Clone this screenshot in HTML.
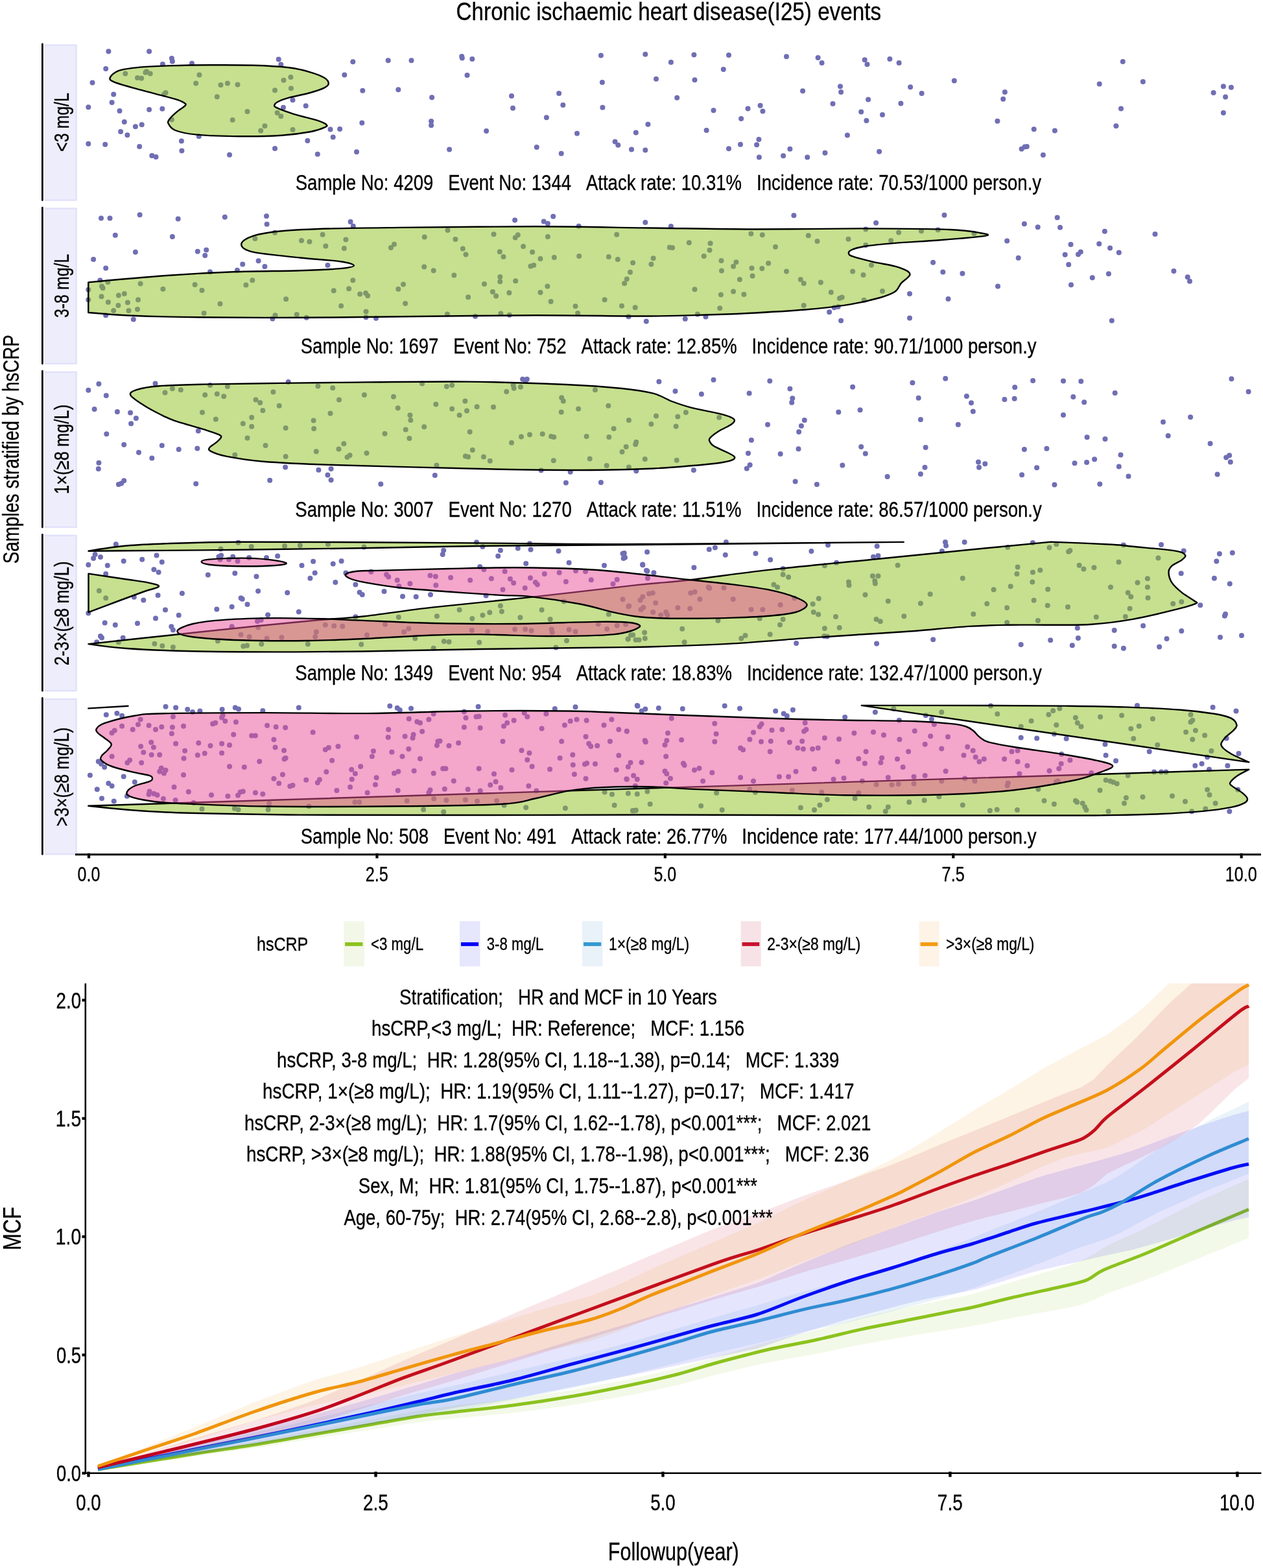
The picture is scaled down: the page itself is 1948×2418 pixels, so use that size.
<!DOCTYPE html>
<html><head><meta charset="utf-8"><title>Chronic ischaemic heart disease(I25) events</title>
<style>html,body{margin:0;padding:0;background:#fff;} svg{display:block;} text{font-family:'Liberation Sans', Arial, sans-serif;fill:#000;stroke:#000;stroke-width:0.35px;}</style>
</head><body>
<svg width="1948" height="2418" viewBox="0 0 1948 2418">
<rect width="1948" height="2418" fill="#fff"/>
<text x="703.61" y="31.30" font-size="39" textLength="655.39" lengthAdjust="spacingAndGlyphs">Chronic ischaemic heart disease(I25) events</text>
<rect x="68.8" y="68.40" width="49.8" height="241.30" fill="#EEEDFC"/>
<path d="M68.8,69.50 H117.5 V308.60 H68.8" fill="none" stroke="#E0E0FB" stroke-width="2.2"/>
<line x1="65.4" y1="67.90" x2="65.4" y2="308.70" stroke="#000" stroke-width="2.8" stroke-linecap="round"/>
<rect x="68.8" y="320.55" width="49.8" height="241.30" fill="#EEEDFC"/>
<path d="M68.8,321.65 H117.5 V560.75 H68.8" fill="none" stroke="#E0E0FB" stroke-width="2.2"/>
<line x1="65.4" y1="320.05" x2="65.4" y2="560.85" stroke="#000" stroke-width="2.8" stroke-linecap="round"/>
<rect x="68.8" y="572.70" width="49.8" height="241.30" fill="#EEEDFC"/>
<path d="M68.8,573.80 H117.5 V812.90 H68.8" fill="none" stroke="#E0E0FB" stroke-width="2.2"/>
<line x1="65.4" y1="572.20" x2="65.4" y2="813.00" stroke="#000" stroke-width="2.8" stroke-linecap="round"/>
<rect x="68.8" y="824.85" width="49.8" height="241.30" fill="#EEEDFC"/>
<path d="M68.8,825.95 H117.5 V1065.05 H68.8" fill="none" stroke="#E0E0FB" stroke-width="2.2"/>
<line x1="65.4" y1="824.35" x2="65.4" y2="1065.15" stroke="#000" stroke-width="2.8" stroke-linecap="round"/>
<rect x="68.8" y="1077.00" width="49.8" height="241.30" fill="#EEEDFC"/>
<path d="M68.8,1078.10 H117.5 V1317.20 H68.8" fill="none" stroke="#E0E0FB" stroke-width="2.2"/>
<line x1="65.4" y1="1076.50" x2="65.4" y2="1317.30" stroke="#000" stroke-width="2.8" stroke-linecap="round"/>
<g fill="#706EB4">
<circle cx="167.4" cy="79.2" r="4"/>
<circle cx="230.1" cy="79.2" r="4"/>
<circle cx="264.9" cy="90.1" r="4"/>
<circle cx="265.9" cy="94.7" r="4"/>
<circle cx="250.9" cy="98.9" r="4"/>
<circle cx="296.0" cy="97.8" r="4"/>
<circle cx="163.2" cy="106.1" r="4"/>
<circle cx="429.7" cy="91.6" r="4"/>
<circle cx="433.3" cy="99.4" r="4"/>
<circle cx="544.3" cy="95.3" r="4"/>
<circle cx="598.7" cy="93.2" r="4"/>
<circle cx="634.5" cy="93.2" r="4"/>
<circle cx="712.2" cy="87.0" r="4"/>
<circle cx="712.8" cy="89.5" r="4"/>
<circle cx="728.3" cy="91.1" r="4"/>
<circle cx="926.9" cy="85.4" r="4"/>
<circle cx="995.3" cy="83.8" r="4"/>
<circle cx="142.5" cy="127.4" r="4"/>
<circle cx="175.2" cy="145.5" r="4"/>
<circle cx="172.6" cy="158.0" r="4"/>
<circle cx="136.3" cy="165.2" r="4"/>
<circle cx="184.5" cy="170.9" r="4"/>
<circle cx="230.1" cy="168.9" r="4"/>
<circle cx="250.3" cy="167.8" r="4"/>
<circle cx="191.8" cy="188.0" r="4"/>
<circle cx="208.9" cy="195.3" r="4"/>
<circle cx="218.7" cy="192.2" r="4"/>
<circle cx="186.1" cy="203.1" r="4"/>
<circle cx="196.4" cy="208.3" r="4"/>
<circle cx="136.3" cy="221.7" r="4"/>
<circle cx="162.2" cy="222.8" r="4"/>
<circle cx="215.1" cy="225.9" r="4"/>
<circle cx="234.3" cy="239.9" r="4"/>
<circle cx="240.5" cy="242.0" r="4"/>
<circle cx="279.9" cy="217.6" r="4"/>
<circle cx="280.4" cy="232.6" r="4"/>
<circle cx="306.8" cy="210.3" r="4"/>
<circle cx="354.0" cy="238.8" r="4"/>
<circle cx="424.0" cy="229.0" r="4"/>
<circle cx="489.8" cy="237.8" r="4"/>
<circle cx="474.3" cy="217.1" r="4"/>
<circle cx="513.7" cy="211.4" r="4"/>
<circle cx="509.5" cy="199.5" r="4"/>
<circle cx="524.1" cy="198.9" r="4"/>
<circle cx="451.5" cy="154.3" r="4"/>
<circle cx="437.0" cy="165.8" r="4"/>
<circle cx="471.7" cy="163.2" r="4"/>
<circle cx="531.3" cy="115.5" r="4"/>
<circle cx="559.3" cy="139.8" r="4"/>
<circle cx="558.3" cy="189.6" r="4"/>
<circle cx="550.0" cy="234.2" r="4"/>
<circle cx="614.3" cy="138.3" r="4"/>
<circle cx="666.1" cy="150.2" r="4"/>
<circle cx="665.1" cy="187.0" r="4"/>
<circle cx="665.1" cy="193.2" r="4"/>
<circle cx="693.1" cy="230.6" r="4"/>
<circle cx="720.5" cy="116.0" r="4"/>
<circle cx="750.1" cy="202.0" r="4"/>
<circle cx="789.0" cy="148.1" r="4"/>
<circle cx="791.0" cy="166.8" r="4"/>
<circle cx="827.8" cy="226.9" r="4"/>
<circle cx="842.9" cy="181.3" r="4"/>
<circle cx="862.1" cy="144.0" r="4"/>
<circle cx="868.3" cy="162.1" r="4"/>
<circle cx="865.7" cy="236.8" r="4"/>
<circle cx="890.0" cy="205.7" r="4"/>
<circle cx="928.9" cy="126.9" r="4"/>
<circle cx="929.4" cy="165.8" r="4"/>
<circle cx="948.6" cy="218.6" r="4"/>
<circle cx="953.3" cy="223.8" r="4"/>
<circle cx="980.8" cy="204.6" r="4"/>
<circle cx="974.0" cy="230.6" r="4"/>
<circle cx="995.3" cy="231.6" r="4"/>
<circle cx="999.4" cy="191.7" r="4"/>
<circle cx="193.3" cy="113.4" r="4"/>
<circle cx="212.0" cy="120.1" r="4"/>
<circle cx="218.2" cy="120.7" r="4"/>
<circle cx="224.4" cy="111.8" r="4"/>
<circle cx="231.7" cy="113.4" r="4"/>
<circle cx="226.0" cy="110.3" r="4"/>
<circle cx="307.4" cy="115.5" r="4"/>
<circle cx="302.2" cy="128.4" r="4"/>
<circle cx="340.5" cy="131.0" r="4"/>
<circle cx="350.9" cy="128.4" r="4"/>
<circle cx="366.5" cy="130.5" r="4"/>
<circle cx="334.8" cy="149.2" r="4"/>
<circle cx="255.5" cy="142.9" r="4"/>
<circle cx="252.9" cy="145.5" r="4"/>
<circle cx="381.5" cy="172.0" r="4"/>
<circle cx="358.7" cy="184.9" r="4"/>
<circle cx="264.9" cy="184.4" r="4"/>
<circle cx="402.2" cy="201.5" r="4"/>
<circle cx="408.4" cy="194.3" r="4"/>
<circle cx="424.0" cy="139.3" r="4"/>
<circle cx="437.5" cy="123.8" r="4"/>
<circle cx="448.4" cy="119.1" r="4"/>
<circle cx="448.9" cy="136.2" r="4"/>
<circle cx="427.6" cy="174.0" r="4"/>
<circle cx="433.3" cy="179.2" r="4"/>
<circle cx="451.5" cy="200.0" r="4"/>
<circle cx="1034.9" cy="96.0" r="4"/>
<circle cx="1070.4" cy="84.6" r="4"/>
<circle cx="1124.0" cy="85.1" r="4"/>
<circle cx="1115.8" cy="107.0" r="4"/>
<circle cx="1012.0" cy="121.7" r="4"/>
<circle cx="1071.5" cy="123.3" r="4"/>
<circle cx="1044.2" cy="150.7" r="4"/>
<circle cx="1100.5" cy="170.3" r="4"/>
<circle cx="1089.6" cy="200.9" r="4"/>
<circle cx="1153.5" cy="167.6" r="4"/>
<circle cx="1143.1" cy="182.9" r="4"/>
<circle cx="1172.6" cy="162.7" r="4"/>
<circle cx="1176.4" cy="171.4" r="4"/>
<circle cx="1124.0" cy="229.3" r="4"/>
<circle cx="1142.0" cy="222.7" r="4"/>
<circle cx="1167.1" cy="223.3" r="4"/>
<circle cx="1170.4" cy="215.1" r="4"/>
<circle cx="1170.9" cy="242.4" r="4"/>
<circle cx="1213.0" cy="87.3" r="4"/>
<circle cx="1261.6" cy="88.9" r="4"/>
<circle cx="1267.6" cy="97.1" r="4"/>
<circle cx="1333.7" cy="92.2" r="4"/>
<circle cx="1337.5" cy="99.3" r="4"/>
<circle cx="1372.4" cy="91.1" r="4"/>
<circle cx="1386.6" cy="97.1" r="4"/>
<circle cx="1238.1" cy="140.3" r="4"/>
<circle cx="1296.0" cy="133.2" r="4"/>
<circle cx="1297.1" cy="141.9" r="4"/>
<circle cx="1284.5" cy="159.9" r="4"/>
<circle cx="1339.1" cy="153.4" r="4"/>
<circle cx="1328.2" cy="172.5" r="4"/>
<circle cx="1336.4" cy="186.1" r="4"/>
<circle cx="1361.0" cy="176.9" r="4"/>
<circle cx="1404.1" cy="134.3" r="4"/>
<circle cx="1421.6" cy="144.1" r="4"/>
<circle cx="1389.4" cy="159.4" r="4"/>
<circle cx="1306.9" cy="208.5" r="4"/>
<circle cx="1356.1" cy="233.7" r="4"/>
<circle cx="1208.1" cy="240.2" r="4"/>
<circle cx="1218.4" cy="229.8" r="4"/>
<circle cx="1245.2" cy="242.4" r="4"/>
<circle cx="1272.5" cy="235.8" r="4"/>
<circle cx="1471.8" cy="124.4" r="4"/>
<circle cx="1549.9" cy="141.9" r="4"/>
<circle cx="1547.2" cy="152.8" r="4"/>
<circle cx="1538.4" cy="186.7" r="4"/>
<circle cx="1594.7" cy="199.3" r="4"/>
<circle cx="1626.9" cy="201.4" r="4"/>
<circle cx="1575.6" cy="229.8" r="4"/>
<circle cx="1580.5" cy="226.6" r="4"/>
<circle cx="1583.8" cy="226.0" r="4"/>
<circle cx="1608.9" cy="239.1" r="4"/>
<circle cx="1695.7" cy="129.4" r="4"/>
<circle cx="1731.8" cy="94.9" r="4"/>
<circle cx="1762.9" cy="126.1" r="4"/>
<circle cx="1729.0" cy="167.6" r="4"/>
<circle cx="1721.4" cy="194.3" r="4"/>
<circle cx="1871.6" cy="143.0" r="4"/>
<circle cx="1886.9" cy="133.2" r="4"/>
<circle cx="1898.9" cy="134.8" r="4"/>
<circle cx="1890.1" cy="149.6" r="4"/>
<circle cx="1886.9" cy="174.1" r="4"/>
<circle cx="156.0" cy="336.4" r="4"/>
<circle cx="169.5" cy="336.4" r="4"/>
<circle cx="215.6" cy="331.2" r="4"/>
<circle cx="274.7" cy="337.4" r="4"/>
<circle cx="346.8" cy="334.8" r="4"/>
<circle cx="411.0" cy="333.3" r="4"/>
<circle cx="411.6" cy="345.7" r="4"/>
<circle cx="424.0" cy="358.7" r="4"/>
<circle cx="540.6" cy="342.1" r="4"/>
<circle cx="544.8" cy="348.8" r="4"/>
<circle cx="794.1" cy="339.5" r="4"/>
<circle cx="838.7" cy="341.5" r="4"/>
<circle cx="844.9" cy="344.7" r="4"/>
<circle cx="853.2" cy="333.8" r="4"/>
<circle cx="892.6" cy="348.8" r="4"/>
<circle cx="995.3" cy="343.1" r="4"/>
<circle cx="177.8" cy="362.8" r="4"/>
<circle cx="265.9" cy="364.9" r="4"/>
<circle cx="208.9" cy="388.7" r="4"/>
<circle cx="144.1" cy="400.1" r="4"/>
<circle cx="163.2" cy="413.6" r="4"/>
<circle cx="304.8" cy="387.7" r="4"/>
<circle cx="318.2" cy="385.6" r="4"/>
<circle cx="316.2" cy="393.9" r="4"/>
<circle cx="374.2" cy="407.4" r="4"/>
<circle cx="398.6" cy="402.2" r="4"/>
<circle cx="408.4" cy="411.0" r="4"/>
<circle cx="365.9" cy="416.7" r="4"/>
<circle cx="324.0" cy="419.3" r="4"/>
<circle cx="505.4" cy="408.9" r="4"/>
<circle cx="154.4" cy="432.3" r="4"/>
<circle cx="136.3" cy="446.8" r="4"/>
<circle cx="136.3" cy="462.3" r="4"/>
<circle cx="163.2" cy="486.2" r="4"/>
<circle cx="205.8" cy="492.4" r="4"/>
<circle cx="420.4" cy="491.4" r="4"/>
<circle cx="472.7" cy="489.8" r="4"/>
<circle cx="564.5" cy="489.3" r="4"/>
<circle cx="580.0" cy="490.8" r="4"/>
<circle cx="733.0" cy="487.7" r="4"/>
<circle cx="996.8" cy="495.5" r="4"/>
<circle cx="157.0" cy="441.6" r="4"/>
<circle cx="166.4" cy="434.9" r="4"/>
<circle cx="158.6" cy="444.2" r="4"/>
<circle cx="216.6" cy="437.5" r="4"/>
<circle cx="156.5" cy="457.2" r="4"/>
<circle cx="182.9" cy="455.6" r="4"/>
<circle cx="191.8" cy="453.0" r="4"/>
<circle cx="166.9" cy="466.0" r="4"/>
<circle cx="182.4" cy="471.1" r="4"/>
<circle cx="196.9" cy="466.5" r="4"/>
<circle cx="175.2" cy="478.9" r="4"/>
<circle cx="198.5" cy="478.9" r="4"/>
<circle cx="212.0" cy="476.9" r="4"/>
<circle cx="213.0" cy="462.3" r="4"/>
<circle cx="251.4" cy="445.7" r="4"/>
<circle cx="300.6" cy="439.0" r="4"/>
<circle cx="311.5" cy="447.8" r="4"/>
<circle cx="314.6" cy="483.1" r="4"/>
<circle cx="339.5" cy="468.6" r="4"/>
<circle cx="379.4" cy="439.5" r="4"/>
<circle cx="389.3" cy="432.3" r="4"/>
<circle cx="393.4" cy="368.0" r="4"/>
<circle cx="441.1" cy="461.3" r="4"/>
<circle cx="457.7" cy="485.1" r="4"/>
<circle cx="424.5" cy="486.2" r="4"/>
<circle cx="465.0" cy="371.1" r="4"/>
<circle cx="477.4" cy="372.7" r="4"/>
<circle cx="497.6" cy="361.8" r="4"/>
<circle cx="502.3" cy="379.4" r="4"/>
<circle cx="533.4" cy="369.5" r="4"/>
<circle cx="530.8" cy="383.0" r="4"/>
<circle cx="544.3" cy="432.3" r="4"/>
<circle cx="538.1" cy="445.2" r="4"/>
<circle cx="514.7" cy="448.3" r="4"/>
<circle cx="555.2" cy="453.5" r="4"/>
<circle cx="564.0" cy="452.0" r="4"/>
<circle cx="567.1" cy="456.1" r="4"/>
<circle cx="526.1" cy="471.7" r="4"/>
<circle cx="564.5" cy="480.5" r="4"/>
<circle cx="602.9" cy="382.0" r="4"/>
<circle cx="608.0" cy="376.8" r="4"/>
<circle cx="614.3" cy="445.7" r="4"/>
<circle cx="622.0" cy="438.5" r="4"/>
<circle cx="625.1" cy="468.0" r="4"/>
<circle cx="654.7" cy="365.4" r="4"/>
<circle cx="654.2" cy="411.5" r="4"/>
<circle cx="668.7" cy="417.2" r="4"/>
<circle cx="690.5" cy="355.0" r="4"/>
<circle cx="702.4" cy="369.0" r="4"/>
<circle cx="700.3" cy="424.5" r="4"/>
<circle cx="713.8" cy="383.5" r="4"/>
<circle cx="718.5" cy="392.4" r="4"/>
<circle cx="689.9" cy="484.6" r="4"/>
<circle cx="747.0" cy="438.0" r="4"/>
<circle cx="761.5" cy="361.2" r="4"/>
<circle cx="759.9" cy="449.9" r="4"/>
<circle cx="765.1" cy="456.6" r="4"/>
<circle cx="771.3" cy="427.1" r="4"/>
<circle cx="771.3" cy="434.3" r="4"/>
<circle cx="770.8" cy="388.2" r="4"/>
<circle cx="776.5" cy="396.0" r="4"/>
<circle cx="722.1" cy="458.2" r="4"/>
<circle cx="785.3" cy="451.5" r="4"/>
<circle cx="772.4" cy="483.6" r="4"/>
<circle cx="785.8" cy="485.7" r="4"/>
<circle cx="794.7" cy="366.4" r="4"/>
<circle cx="798.8" cy="362.3" r="4"/>
<circle cx="795.2" cy="433.3" r="4"/>
<circle cx="807.1" cy="379.9" r="4"/>
<circle cx="821.1" cy="388.7" r="4"/>
<circle cx="818.5" cy="410.5" r="4"/>
<circle cx="823.2" cy="408.9" r="4"/>
<circle cx="833.5" cy="399.1" r="4"/>
<circle cx="844.9" cy="364.9" r="4"/>
<circle cx="854.8" cy="397.0" r="4"/>
<circle cx="844.4" cy="441.6" r="4"/>
<circle cx="833.5" cy="450.9" r="4"/>
<circle cx="849.6" cy="464.9" r="4"/>
<circle cx="893.2" cy="394.9" r="4"/>
<circle cx="887.5" cy="472.2" r="4"/>
<circle cx="891.1" cy="483.1" r="4"/>
<circle cx="932.6" cy="462.3" r="4"/>
<circle cx="951.2" cy="361.8" r="4"/>
<circle cx="938.8" cy="396.0" r="4"/>
<circle cx="952.8" cy="400.1" r="4"/>
<circle cx="976.1" cy="405.3" r="4"/>
<circle cx="972.0" cy="419.8" r="4"/>
<circle cx="966.8" cy="430.2" r="4"/>
<circle cx="963.1" cy="436.9" r="4"/>
<circle cx="959.0" cy="471.7" r="4"/>
<circle cx="979.7" cy="474.3" r="4"/>
<circle cx="969.4" cy="488.3" r="4"/>
<circle cx="1034.9" cy="349.1" r="4"/>
<circle cx="1224.4" cy="332.2" r="4"/>
<circle cx="1351.1" cy="343.7" r="4"/>
<circle cx="1456.5" cy="331.7" r="4"/>
<circle cx="1579.9" cy="345.3" r="4"/>
<circle cx="1600.7" cy="350.2" r="4"/>
<circle cx="1630.7" cy="335.5" r="4"/>
<circle cx="1635.1" cy="350.8" r="4"/>
<circle cx="1703.9" cy="356.8" r="4"/>
<circle cx="1781.5" cy="361.1" r="4"/>
<circle cx="1553.2" cy="371.5" r="4"/>
<circle cx="1570.7" cy="397.7" r="4"/>
<circle cx="1651.5" cy="377.0" r="4"/>
<circle cx="1642.7" cy="392.8" r="4"/>
<circle cx="1663.0" cy="392.3" r="4"/>
<circle cx="1666.8" cy="388.5" r="4"/>
<circle cx="1648.2" cy="408.1" r="4"/>
<circle cx="1695.2" cy="375.9" r="4"/>
<circle cx="1712.1" cy="382.4" r="4"/>
<circle cx="1725.8" cy="389.5" r="4"/>
<circle cx="1684.8" cy="428.3" r="4"/>
<circle cx="1709.9" cy="422.3" r="4"/>
<circle cx="1652.0" cy="439.2" r="4"/>
<circle cx="1539.0" cy="441.4" r="4"/>
<circle cx="1810.4" cy="417.9" r="4"/>
<circle cx="1831.7" cy="427.2" r="4"/>
<circle cx="1835.0" cy="433.8" r="4"/>
<circle cx="1439.1" cy="404.8" r="4"/>
<circle cx="1454.3" cy="419.6" r="4"/>
<circle cx="1484.4" cy="421.8" r="4"/>
<circle cx="1403.0" cy="452.9" r="4"/>
<circle cx="1462.5" cy="461.1" r="4"/>
<circle cx="1403.0" cy="490.6" r="4"/>
<circle cx="1297.1" cy="494.4" r="4"/>
<circle cx="1279.1" cy="481.3" r="4"/>
<circle cx="1714.8" cy="494.4" r="4"/>
<circle cx="1056.8" cy="491.7" r="4"/>
<circle cx="1088.5" cy="488.4" r="4"/>
<circle cx="1007.6" cy="398.3" r="4"/>
<circle cx="1004.4" cy="407.6" r="4"/>
<circle cx="1032.8" cy="381.4" r="4"/>
<circle cx="1037.1" cy="381.9" r="4"/>
<circle cx="1062.8" cy="374.3" r="4"/>
<circle cx="1095.6" cy="375.3" r="4"/>
<circle cx="1094.5" cy="385.7" r="4"/>
<circle cx="1085.7" cy="395.0" r="4"/>
<circle cx="1158.4" cy="360.6" r="4"/>
<circle cx="1175.8" cy="362.2" r="4"/>
<circle cx="1246.8" cy="363.3" r="4"/>
<circle cx="1260.5" cy="372.1" r="4"/>
<circle cx="1196.0" cy="380.8" r="4"/>
<circle cx="1308.5" cy="368.8" r="4"/>
<circle cx="1335.3" cy="353.5" r="4"/>
<circle cx="1335.3" cy="378.1" r="4"/>
<circle cx="1374.1" cy="371.0" r="4"/>
<circle cx="1386.1" cy="358.4" r="4"/>
<circle cx="1421.0" cy="356.2" r="4"/>
<circle cx="1446.7" cy="354.6" r="4"/>
<circle cx="1502.4" cy="360.1" r="4"/>
<circle cx="1112.5" cy="402.1" r="4"/>
<circle cx="1135.4" cy="404.3" r="4"/>
<circle cx="1131.1" cy="410.8" r="4"/>
<circle cx="1113.0" cy="417.4" r="4"/>
<circle cx="1159.5" cy="413.6" r="4"/>
<circle cx="1175.3" cy="414.1" r="4"/>
<circle cx="1185.1" cy="405.9" r="4"/>
<circle cx="1160.6" cy="425.6" r="4"/>
<circle cx="1213.0" cy="418.5" r="4"/>
<circle cx="1140.9" cy="431.0" r="4"/>
<circle cx="1234.8" cy="431.0" r="4"/>
<circle cx="1239.7" cy="437.1" r="4"/>
<circle cx="1265.9" cy="435.4" r="4"/>
<circle cx="1315.1" cy="418.5" r="4"/>
<circle cx="1331.5" cy="423.9" r="4"/>
<circle cx="1344.0" cy="408.7" r="4"/>
<circle cx="1071.5" cy="446.3" r="4"/>
<circle cx="1111.9" cy="454.5" r="4"/>
<circle cx="1131.1" cy="449.6" r="4"/>
<circle cx="1147.4" cy="454.0" r="4"/>
<circle cx="1110.3" cy="475.3" r="4"/>
<circle cx="1075.9" cy="484.6" r="4"/>
<circle cx="1239.7" cy="470.9" r="4"/>
<circle cx="1281.8" cy="450.7" r="4"/>
<circle cx="1294.9" cy="460.0" r="4"/>
<circle cx="1298.7" cy="458.4" r="4"/>
<circle cx="1286.7" cy="474.2" r="4"/>
<circle cx="1292.7" cy="473.1" r="4"/>
<circle cx="1332.6" cy="462.7" r="4"/>
<circle cx="1361.0" cy="449.1" r="4"/>
<circle cx="136.3" cy="601.8" r="4"/>
<circle cx="152.4" cy="592.0" r="4"/>
<circle cx="163.8" cy="610.1" r="4"/>
<circle cx="145.6" cy="630.9" r="4"/>
<circle cx="180.9" cy="635.0" r="4"/>
<circle cx="201.1" cy="636.6" r="4"/>
<circle cx="209.9" cy="644.9" r="4"/>
<circle cx="202.1" cy="653.2" r="4"/>
<circle cx="164.3" cy="669.2" r="4"/>
<circle cx="191.2" cy="685.8" r="4"/>
<circle cx="214.0" cy="697.7" r="4"/>
<circle cx="234.3" cy="706.6" r="4"/>
<circle cx="249.8" cy="686.9" r="4"/>
<circle cx="275.7" cy="693.1" r="4"/>
<circle cx="304.3" cy="691.5" r="4"/>
<circle cx="305.8" cy="664.6" r="4"/>
<circle cx="152.4" cy="713.8" r="4"/>
<circle cx="151.8" cy="723.1" r="4"/>
<circle cx="182.9" cy="747.0" r="4"/>
<circle cx="187.1" cy="745.4" r="4"/>
<circle cx="191.2" cy="741.3" r="4"/>
<circle cx="302.2" cy="746.0" r="4"/>
<circle cx="416.2" cy="740.8" r="4"/>
<circle cx="440.1" cy="720.6" r="4"/>
<circle cx="491.4" cy="724.7" r="4"/>
<circle cx="505.4" cy="732.5" r="4"/>
<circle cx="510.6" cy="723.1" r="4"/>
<circle cx="510.6" cy="740.3" r="4"/>
<circle cx="587.3" cy="746.5" r="4"/>
<circle cx="670.8" cy="733.0" r="4"/>
<circle cx="834.6" cy="725.2" r="4"/>
<circle cx="872.9" cy="744.4" r="4"/>
<circle cx="879.7" cy="727.8" r="4"/>
<circle cx="926.9" cy="743.9" r="4"/>
<circle cx="981.3" cy="726.3" r="4"/>
<circle cx="239.5" cy="591.5" r="4"/>
<circle cx="444.7" cy="588.9" r="4"/>
<circle cx="806.1" cy="584.7" r="4"/>
<circle cx="812.8" cy="584.7" r="4"/>
<circle cx="810.7" cy="587.3" r="4"/>
<circle cx="254.5" cy="605.5" r="4"/>
<circle cx="265.9" cy="599.3" r="4"/>
<circle cx="278.8" cy="601.3" r="4"/>
<circle cx="316.2" cy="609.1" r="4"/>
<circle cx="324.0" cy="594.1" r="4"/>
<circle cx="334.8" cy="607.5" r="4"/>
<circle cx="345.2" cy="611.2" r="4"/>
<circle cx="350.9" cy="596.1" r="4"/>
<circle cx="312.0" cy="636.1" r="4"/>
<circle cx="332.8" cy="646.4" r="4"/>
<circle cx="374.8" cy="653.2" r="4"/>
<circle cx="388.2" cy="643.8" r="4"/>
<circle cx="388.2" cy="657.8" r="4"/>
<circle cx="381.5" cy="675.5" r="4"/>
<circle cx="362.3" cy="701.4" r="4"/>
<circle cx="394.5" cy="616.4" r="4"/>
<circle cx="401.2" cy="621.0" r="4"/>
<circle cx="405.3" cy="632.9" r="4"/>
<circle cx="421.4" cy="604.4" r="4"/>
<circle cx="430.7" cy="625.7" r="4"/>
<circle cx="409.5" cy="686.9" r="4"/>
<circle cx="440.6" cy="659.9" r="4"/>
<circle cx="440.6" cy="704.0" r="4"/>
<circle cx="483.6" cy="648.5" r="4"/>
<circle cx="484.1" cy="660.9" r="4"/>
<circle cx="490.4" cy="595.6" r="4"/>
<circle cx="513.2" cy="598.2" r="4"/>
<circle cx="523.0" cy="616.4" r="4"/>
<circle cx="509.5" cy="637.6" r="4"/>
<circle cx="487.8" cy="696.2" r="4"/>
<circle cx="522.5" cy="692.6" r="4"/>
<circle cx="530.3" cy="684.3" r="4"/>
<circle cx="539.6" cy="701.9" r="4"/>
<circle cx="535.5" cy="705.0" r="4"/>
<circle cx="565.5" cy="698.8" r="4"/>
<circle cx="561.9" cy="609.1" r="4"/>
<circle cx="593.5" cy="668.7" r="4"/>
<circle cx="607.0" cy="611.7" r="4"/>
<circle cx="613.7" cy="629.3" r="4"/>
<circle cx="632.4" cy="640.2" r="4"/>
<circle cx="633.4" cy="648.0" r="4"/>
<circle cx="625.7" cy="662.5" r="4"/>
<circle cx="631.4" cy="676.0" r="4"/>
<circle cx="654.2" cy="658.3" r="4"/>
<circle cx="651.1" cy="591.5" r="4"/>
<circle cx="672.3" cy="623.6" r="4"/>
<circle cx="688.9" cy="596.1" r="4"/>
<circle cx="697.2" cy="594.1" r="4"/>
<circle cx="697.2" cy="630.4" r="4"/>
<circle cx="708.6" cy="640.2" r="4"/>
<circle cx="717.4" cy="618.4" r="4"/>
<circle cx="720.0" cy="633.5" r="4"/>
<circle cx="735.6" cy="627.2" r="4"/>
<circle cx="724.7" cy="666.1" r="4"/>
<circle cx="728.8" cy="694.1" r="4"/>
<circle cx="717.9" cy="703.5" r="4"/>
<circle cx="722.1" cy="704.5" r="4"/>
<circle cx="745.9" cy="704.5" r="4"/>
<circle cx="755.8" cy="710.7" r="4"/>
<circle cx="761.0" cy="627.8" r="4"/>
<circle cx="781.2" cy="603.9" r="4"/>
<circle cx="791.6" cy="594.1" r="4"/>
<circle cx="792.6" cy="598.7" r="4"/>
<circle cx="803.0" cy="596.7" r="4"/>
<circle cx="789.0" cy="682.7" r="4"/>
<circle cx="804.0" cy="673.4" r="4"/>
<circle cx="817.0" cy="670.3" r="4"/>
<circle cx="836.7" cy="669.2" r="4"/>
<circle cx="850.1" cy="672.9" r="4"/>
<circle cx="854.3" cy="673.9" r="4"/>
<circle cx="853.8" cy="710.2" r="4"/>
<circle cx="866.2" cy="613.2" r="4"/>
<circle cx="868.8" cy="618.4" r="4"/>
<circle cx="865.7" cy="635.5" r="4"/>
<circle cx="892.1" cy="630.4" r="4"/>
<circle cx="904.6" cy="672.9" r="4"/>
<circle cx="909.7" cy="707.6" r="4"/>
<circle cx="918.0" cy="601.3" r="4"/>
<circle cx="938.3" cy="625.7" r="4"/>
<circle cx="939.3" cy="673.9" r="4"/>
<circle cx="946.6" cy="660.9" r="4"/>
<circle cx="969.9" cy="648.0" r="4"/>
<circle cx="959.5" cy="696.7" r="4"/>
<circle cx="965.7" cy="688.9" r="4"/>
<circle cx="981.3" cy="681.7" r="4"/>
<circle cx="980.2" cy="685.3" r="4"/>
<circle cx="935.7" cy="718.0" r="4"/>
<circle cx="969.9" cy="720.6" r="4"/>
<circle cx="994.8" cy="708.1" r="4"/>
<circle cx="673.4" cy="717.4" r="4"/>
<circle cx="1016.4" cy="588.6" r="4"/>
<circle cx="1041.5" cy="603.3" r="4"/>
<circle cx="1081.9" cy="607.7" r="4"/>
<circle cx="1100.5" cy="585.8" r="4"/>
<circle cx="1155.6" cy="606.6" r="4"/>
<circle cx="1187.3" cy="587.5" r="4"/>
<circle cx="1218.4" cy="599.5" r="4"/>
<circle cx="1222.3" cy="614.2" r="4"/>
<circle cx="1221.2" cy="620.8" r="4"/>
<circle cx="1315.1" cy="596.8" r="4"/>
<circle cx="1407.4" cy="590.2" r="4"/>
<circle cx="1458.2" cy="583.7" r="4"/>
<circle cx="1416.7" cy="613.7" r="4"/>
<circle cx="1490.9" cy="611.0" r="4"/>
<circle cx="1498.0" cy="621.3" r="4"/>
<circle cx="1500.8" cy="634.4" r="4"/>
<circle cx="1565.2" cy="597.3" r="4"/>
<circle cx="1564.7" cy="614.8" r="4"/>
<circle cx="1549.4" cy="615.9" r="4"/>
<circle cx="1593.1" cy="586.9" r="4"/>
<circle cx="1640.0" cy="587.5" r="4"/>
<circle cx="1667.3" cy="588.0" r="4"/>
<circle cx="1655.3" cy="612.1" r="4"/>
<circle cx="1672.2" cy="620.2" r="4"/>
<circle cx="1719.7" cy="606.0" r="4"/>
<circle cx="1899.4" cy="584.2" r="4"/>
<circle cx="1925.6" cy="603.9" r="4"/>
<circle cx="1640.0" cy="639.9" r="4"/>
<circle cx="1794.0" cy="650.8" r="4"/>
<circle cx="1836.1" cy="643.2" r="4"/>
<circle cx="1801.7" cy="672.1" r="4"/>
<circle cx="1676.6" cy="674.3" r="4"/>
<circle cx="1704.5" cy="677.0" r="4"/>
<circle cx="1419.9" cy="647.0" r="4"/>
<circle cx="1477.8" cy="654.7" r="4"/>
<circle cx="1184.0" cy="654.7" r="4"/>
<circle cx="1240.8" cy="648.1" r="4"/>
<circle cx="1235.9" cy="656.8" r="4"/>
<circle cx="1232.1" cy="666.1" r="4"/>
<circle cx="1158.9" cy="678.7" r="4"/>
<circle cx="1154.0" cy="698.9" r="4"/>
<circle cx="1156.7" cy="716.9" r="4"/>
<circle cx="1151.8" cy="722.4" r="4"/>
<circle cx="1203.7" cy="700.0" r="4"/>
<circle cx="1231.5" cy="692.3" r="4"/>
<circle cx="1293.3" cy="635.5" r="4"/>
<circle cx="1326.6" cy="632.3" r="4"/>
<circle cx="1328.2" cy="689.1" r="4"/>
<circle cx="1334.8" cy="699.4" r="4"/>
<circle cx="1299.3" cy="717.5" r="4"/>
<circle cx="1427.6" cy="690.1" r="4"/>
<circle cx="1426.5" cy="720.7" r="4"/>
<circle cx="1419.9" cy="731.1" r="4"/>
<circle cx="1509.0" cy="712.5" r="4"/>
<circle cx="1519.3" cy="715.3" r="4"/>
<circle cx="1510.0" cy="720.7" r="4"/>
<circle cx="1579.9" cy="692.9" r="4"/>
<circle cx="1614.4" cy="691.8" r="4"/>
<circle cx="1599.1" cy="721.3" r="4"/>
<circle cx="1576.1" cy="732.2" r="4"/>
<circle cx="1657.5" cy="714.2" r="4"/>
<circle cx="1676.1" cy="713.1" r="4"/>
<circle cx="1688.1" cy="708.2" r="4"/>
<circle cx="1728.5" cy="701.6" r="4"/>
<circle cx="1725.8" cy="719.6" r="4"/>
<circle cx="1740.5" cy="734.4" r="4"/>
<circle cx="1626.4" cy="747.5" r="4"/>
<circle cx="1696.3" cy="746.4" r="4"/>
<circle cx="1866.6" cy="684.1" r="4"/>
<circle cx="1896.1" cy="702.2" r="4"/>
<circle cx="1891.2" cy="705.4" r="4"/>
<circle cx="1897.8" cy="712.5" r="4"/>
<circle cx="1877.6" cy="731.6" r="4"/>
<circle cx="1368.6" cy="734.9" r="4"/>
<circle cx="1226.6" cy="742.6" r="4"/>
<circle cx="1259.9" cy="746.9" r="4"/>
<circle cx="1069.9" cy="725.1" r="4"/>
<circle cx="1012.0" cy="641.5" r="4"/>
<circle cx="1004.4" cy="654.1" r="4"/>
<circle cx="1045.3" cy="642.6" r="4"/>
<circle cx="1057.9" cy="636.1" r="4"/>
<circle cx="1042.6" cy="657.4" r="4"/>
<circle cx="1109.2" cy="643.7" r="4"/>
<circle cx="1043.7" cy="709.8" r="4"/>
<circle cx="178.8" cy="839.3" r="4"/>
<circle cx="146.7" cy="854.9" r="4"/>
<circle cx="144.1" cy="861.1" r="4"/>
<circle cx="155.0" cy="859.0" r="4"/>
<circle cx="136.3" cy="871.0" r="4"/>
<circle cx="165.8" cy="872.0" r="4"/>
<circle cx="190.7" cy="865.2" r="4"/>
<circle cx="219.2" cy="862.7" r="4"/>
<circle cx="241.5" cy="856.4" r="4"/>
<circle cx="249.8" cy="866.8" r="4"/>
<circle cx="237.4" cy="878.2" r="4"/>
<circle cx="244.6" cy="882.4" r="4"/>
<circle cx="163.2" cy="884.9" r="4"/>
<circle cx="206.8" cy="920.7" r="4"/>
<circle cx="221.3" cy="925.4" r="4"/>
<circle cx="243.6" cy="918.1" r="4"/>
<circle cx="280.9" cy="915.0" r="4"/>
<circle cx="255.0" cy="940.4" r="4"/>
<circle cx="240.0" cy="953.4" r="4"/>
<circle cx="212.0" cy="961.2" r="4"/>
<circle cx="161.7" cy="960.6" r="4"/>
<circle cx="177.8" cy="963.7" r="4"/>
<circle cx="136.3" cy="945.6" r="4"/>
<circle cx="155.0" cy="980.9" r="4"/>
<circle cx="157.0" cy="983.4" r="4"/>
<circle cx="189.7" cy="983.4" r="4"/>
<circle cx="264.3" cy="966.3" r="4"/>
<circle cx="266.9" cy="971.5" r="4"/>
<circle cx="275.7" cy="948.7" r="4"/>
<circle cx="320.8" cy="886.5" r="4"/>
<circle cx="334.3" cy="939.4" r="4"/>
<circle cx="357.6" cy="935.8" r="4"/>
<circle cx="371.6" cy="922.3" r="4"/>
<circle cx="373.7" cy="923.8" r="4"/>
<circle cx="381.5" cy="932.1" r="4"/>
<circle cx="362.3" cy="883.9" r="4"/>
<circle cx="395.5" cy="889.1" r="4"/>
<circle cx="398.1" cy="911.4" r="4"/>
<circle cx="413.1" cy="948.2" r="4"/>
<circle cx="443.2" cy="914.0" r="4"/>
<circle cx="460.8" cy="943.5" r="4"/>
<circle cx="465.5" cy="872.0" r="4"/>
<circle cx="483.1" cy="865.8" r="4"/>
<circle cx="485.7" cy="883.4" r="4"/>
<circle cx="478.4" cy="891.7" r="4"/>
<circle cx="513.7" cy="869.4" r="4"/>
<circle cx="526.6" cy="865.2" r="4"/>
<circle cx="517.3" cy="897.9" r="4"/>
<circle cx="533.4" cy="883.4" r="4"/>
<circle cx="548.4" cy="901.5" r="4"/>
<circle cx="554.6" cy="913.5" r="4"/>
<circle cx="558.8" cy="917.1" r="4"/>
<circle cx="592.5" cy="911.9" r="4"/>
<circle cx="621.0" cy="919.7" r="4"/>
<circle cx="641.7" cy="920.2" r="4"/>
<circle cx="664.0" cy="917.1" r="4"/>
<circle cx="684.2" cy="848.7" r="4"/>
<circle cx="682.7" cy="854.9" r="4"/>
<circle cx="735.0" cy="836.2" r="4"/>
<circle cx="744.4" cy="843.0" r="4"/>
<circle cx="768.2" cy="857.5" r="4"/>
<circle cx="771.9" cy="848.7" r="4"/>
<circle cx="798.8" cy="845.5" r="4"/>
<circle cx="817.0" cy="838.3" r="4"/>
<circle cx="818.5" cy="847.6" r="4"/>
<circle cx="811.2" cy="868.9" r="4"/>
<circle cx="749.6" cy="918.6" r="4"/>
<circle cx="861.5" cy="849.7" r="4"/>
<circle cx="877.6" cy="867.8" r="4"/>
<circle cx="932.0" cy="872.0" r="4"/>
<circle cx="960.5" cy="853.8" r="4"/>
<circle cx="961.6" cy="861.1" r="4"/>
<circle cx="991.1" cy="870.4" r="4"/>
<circle cx="998.4" cy="880.8" r="4"/>
<circle cx="740.2" cy="874.1" r="4"/>
<circle cx="367.5" cy="836.7" r="4"/>
<circle cx="337.4" cy="858.5" r="4"/>
<circle cx="341.1" cy="856.4" r="4"/>
<circle cx="359.2" cy="858.5" r="4"/>
<circle cx="339.5" cy="862.7" r="4"/>
<circle cx="353.0" cy="862.7" r="4"/>
<circle cx="366.5" cy="865.2" r="4"/>
<circle cx="384.1" cy="860.1" r="4"/>
<circle cx="411.0" cy="860.1" r="4"/>
<circle cx="428.1" cy="857.5" r="4"/>
<circle cx="572.3" cy="881.8" r="4"/>
<circle cx="596.1" cy="886.0" r="4"/>
<circle cx="599.2" cy="889.6" r="4"/>
<circle cx="612.7" cy="894.8" r="4"/>
<circle cx="615.3" cy="904.1" r="4"/>
<circle cx="632.4" cy="900.0" r="4"/>
<circle cx="663.5" cy="887.5" r="4"/>
<circle cx="671.8" cy="889.1" r="4"/>
<circle cx="672.3" cy="902.6" r="4"/>
<circle cx="695.1" cy="890.7" r="4"/>
<circle cx="725.2" cy="894.8" r="4"/>
<circle cx="746.4" cy="878.2" r="4"/>
<circle cx="757.9" cy="892.2" r="4"/>
<circle cx="775.5" cy="909.3" r="4"/>
<circle cx="778.6" cy="881.3" r="4"/>
<circle cx="786.9" cy="892.7" r="4"/>
<circle cx="792.1" cy="898.9" r="4"/>
<circle cx="809.7" cy="906.7" r="4"/>
<circle cx="818.0" cy="891.2" r="4"/>
<circle cx="825.8" cy="897.9" r="4"/>
<circle cx="828.9" cy="901.5" r="4"/>
<circle cx="839.8" cy="884.9" r="4"/>
<circle cx="862.6" cy="882.9" r="4"/>
<circle cx="872.9" cy="896.9" r="4"/>
<circle cx="888.0" cy="880.3" r="4"/>
<circle cx="903.0" cy="881.3" r="4"/>
<circle cx="911.8" cy="894.3" r="4"/>
<circle cx="945.5" cy="900.5" r="4"/>
<circle cx="951.7" cy="893.8" r="4"/>
<circle cx="998.9" cy="891.7" r="4"/>
<circle cx="357.6" cy="966.3" r="4"/>
<circle cx="371.6" cy="978.8" r="4"/>
<circle cx="384.6" cy="981.9" r="4"/>
<circle cx="397.0" cy="958.0" r="4"/>
<circle cx="411.6" cy="984.5" r="4"/>
<circle cx="402.7" cy="956.0" r="4"/>
<circle cx="434.4" cy="982.9" r="4"/>
<circle cx="398.1" cy="967.4" r="4"/>
<circle cx="501.8" cy="963.7" r="4"/>
<circle cx="515.2" cy="965.3" r="4"/>
<circle cx="528.2" cy="965.8" r="4"/>
<circle cx="487.8" cy="974.6" r="4"/>
<circle cx="486.2" cy="981.9" r="4"/>
<circle cx="566.0" cy="979.3" r="4"/>
<circle cx="594.0" cy="962.7" r="4"/>
<circle cx="623.1" cy="974.6" r="4"/>
<circle cx="727.8" cy="972.0" r="4"/>
<circle cx="752.2" cy="974.1" r="4"/>
<circle cx="794.1" cy="970.5" r="4"/>
<circle cx="810.2" cy="970.5" r="4"/>
<circle cx="819.5" cy="972.6" r="4"/>
<circle cx="850.6" cy="970.5" r="4"/>
<circle cx="851.7" cy="975.1" r="4"/>
<circle cx="877.6" cy="971.0" r="4"/>
<circle cx="887.5" cy="974.1" r="4"/>
<circle cx="951.7" cy="964.8" r="4"/>
<circle cx="960.5" cy="924.3" r="4"/>
<circle cx="969.4" cy="935.2" r="4"/>
<circle cx="987.5" cy="925.4" r="4"/>
<circle cx="992.2" cy="936.8" r="4"/>
<circle cx="630.3" cy="969.4" r="4"/>
<circle cx="728.3" cy="953.9" r="4"/>
<circle cx="744.4" cy="948.7" r="4"/>
<circle cx="152.9" cy="910.9" r="4"/>
<circle cx="163.2" cy="922.3" r="4"/>
<circle cx="149.2" cy="990.2" r="4"/>
<circle cx="182.9" cy="990.2" r="4"/>
<circle cx="238.4" cy="992.8" r="4"/>
<circle cx="250.3" cy="995.9" r="4"/>
<circle cx="266.9" cy="998.0" r="4"/>
<circle cx="340.5" cy="846.6" r="4"/>
<circle cx="387.7" cy="843.0" r="4"/>
<circle cx="439.0" cy="841.9" r="4"/>
<circle cx="462.9" cy="840.9" r="4"/>
<circle cx="505.9" cy="839.3" r="4"/>
<circle cx="561.4" cy="843.5" r="4"/>
<circle cx="335.9" cy="988.6" r="4"/>
<circle cx="375.3" cy="996.4" r="4"/>
<circle cx="381.0" cy="995.4" r="4"/>
<circle cx="403.3" cy="993.3" r="4"/>
<circle cx="474.8" cy="993.3" r="4"/>
<circle cx="557.2" cy="993.8" r="4"/>
<circle cx="640.2" cy="984.5" r="4"/>
<circle cx="684.8" cy="989.1" r="4"/>
<circle cx="692.5" cy="989.7" r="4"/>
<circle cx="739.2" cy="990.7" r="4"/>
<circle cx="668.7" cy="999.5" r="4"/>
<circle cx="857.4" cy="998.5" r="4"/>
<circle cx="874.0" cy="988.1" r="4"/>
<circle cx="968.8" cy="985.5" r="4"/>
<circle cx="976.1" cy="979.3" r="4"/>
<circle cx="994.8" cy="984.5" r="4"/>
<circle cx="548.4" cy="951.3" r="4"/>
<circle cx="614.8" cy="951.8" r="4"/>
<circle cx="673.9" cy="950.3" r="4"/>
<circle cx="708.6" cy="940.4" r="4"/>
<circle cx="755.3" cy="944.6" r="4"/>
<circle cx="771.9" cy="934.2" r="4"/>
<circle cx="773.9" cy="943.0" r="4"/>
<circle cx="802.4" cy="952.3" r="4"/>
<circle cx="848.6" cy="954.9" r="4"/>
<circle cx="835.6" cy="940.4" r="4"/>
<circle cx="869.8" cy="927.5" r="4"/>
<circle cx="922.7" cy="962.2" r="4"/>
<circle cx="936.2" cy="970.0" r="4"/>
<circle cx="938.8" cy="947.2" r="4"/>
<circle cx="962.8" cy="853.0" r="4"/>
<circle cx="964.0" cy="859.8" r="4"/>
<circle cx="998.1" cy="851.3" r="4"/>
<circle cx="991.3" cy="871.2" r="4"/>
<circle cx="997.0" cy="879.7" r="4"/>
<circle cx="1008.4" cy="883.2" r="4"/>
<circle cx="1070.4" cy="875.2" r="4"/>
<circle cx="1093.8" cy="847.3" r="4"/>
<circle cx="1102.9" cy="844.5" r="4"/>
<circle cx="1119.9" cy="835.9" r="4"/>
<circle cx="1118.8" cy="855.8" r="4"/>
<circle cx="1165.5" cy="853.6" r="4"/>
<circle cx="1188.2" cy="863.2" r="4"/>
<circle cx="1207.6" cy="876.9" r="4"/>
<circle cx="1251.4" cy="850.1" r="4"/>
<circle cx="1277.0" cy="840.5" r="4"/>
<circle cx="1290.1" cy="867.8" r="4"/>
<circle cx="1271.9" cy="872.3" r="4"/>
<circle cx="1352.7" cy="842.2" r="4"/>
<circle cx="1354.4" cy="857.0" r="4"/>
<circle cx="1347.0" cy="858.7" r="4"/>
<circle cx="1458.0" cy="835.9" r="4"/>
<circle cx="1459.1" cy="841.6" r="4"/>
<circle cx="1487.6" cy="835.9" r="4"/>
<circle cx="1452.9" cy="850.1" r="4"/>
<circle cx="1592.9" cy="837.1" r="4"/>
<circle cx="1554.2" cy="843.9" r="4"/>
<circle cx="1732.9" cy="840.5" r="4"/>
<circle cx="1791.0" cy="839.9" r="4"/>
<circle cx="1825.7" cy="849.6" r="4"/>
<circle cx="1880.9" cy="854.1" r="4"/>
<circle cx="1900.8" cy="852.4" r="4"/>
<circle cx="1876.3" cy="865.5" r="4"/>
<circle cx="1821.7" cy="884.3" r="4"/>
<circle cx="1872.9" cy="891.7" r="4"/>
<circle cx="1896.8" cy="900.2" r="4"/>
<circle cx="1851.3" cy="933.2" r="4"/>
<circle cx="1890.0" cy="946.9" r="4"/>
<circle cx="1888.9" cy="949.8" r="4"/>
<circle cx="1661.8" cy="968.5" r="4"/>
<circle cx="1718.7" cy="971.9" r="4"/>
<circle cx="1763.1" cy="965.1" r="4"/>
<circle cx="1822.3" cy="973.1" r="4"/>
<circle cx="1799.5" cy="985.0" r="4"/>
<circle cx="1662.9" cy="983.9" r="4"/>
<circle cx="1620.2" cy="987.3" r="4"/>
<circle cx="1653.8" cy="995.3" r="4"/>
<circle cx="1574.7" cy="994.1" r="4"/>
<circle cx="1718.7" cy="996.4" r="4"/>
<circle cx="1732.9" cy="999.8" r="4"/>
<circle cx="1788.1" cy="997.6" r="4"/>
<circle cx="1882.0" cy="982.8" r="4"/>
<circle cx="1915.0" cy="979.9" r="4"/>
<circle cx="1439.2" cy="986.2" r="4"/>
<circle cx="1352.1" cy="992.4" r="4"/>
<circle cx="1228.1" cy="991.9" r="4"/>
<circle cx="991.3" cy="920.2" r="4"/>
<circle cx="1001.0" cy="915.6" r="4"/>
<circle cx="1006.7" cy="914.5" r="4"/>
<circle cx="1011.2" cy="929.8" r="4"/>
<circle cx="970.2" cy="934.4" r="4"/>
<circle cx="988.5" cy="940.1" r="4"/>
<circle cx="1007.2" cy="944.1" r="4"/>
<circle cx="1019.2" cy="948.6" r="4"/>
<circle cx="1027.2" cy="944.1" r="4"/>
<circle cx="1029.4" cy="948.6" r="4"/>
<circle cx="1045.4" cy="937.2" r="4"/>
<circle cx="1064.2" cy="938.4" r="4"/>
<circle cx="1065.3" cy="914.5" r="4"/>
<circle cx="1071.6" cy="912.8" r="4"/>
<circle cx="1079.5" cy="924.1" r="4"/>
<circle cx="1092.6" cy="905.4" r="4"/>
<circle cx="1094.3" cy="907.1" r="4"/>
<circle cx="1116.5" cy="906.5" r="4"/>
<circle cx="1130.7" cy="924.1" r="4"/>
<circle cx="1158.6" cy="940.1" r="4"/>
<circle cx="1176.3" cy="940.1" r="4"/>
<circle cx="1203.6" cy="932.7" r="4"/>
<circle cx="1225.2" cy="922.4" r="4"/>
<circle cx="965.1" cy="962.8" r="4"/>
<circle cx="1207.6" cy="886.0" r="4"/>
<circle cx="1216.1" cy="890.0" r="4"/>
<circle cx="1193.4" cy="901.4" r="4"/>
<circle cx="1199.0" cy="905.4" r="4"/>
<circle cx="1253.7" cy="931.5" r="4"/>
<circle cx="1262.8" cy="923.0" r="4"/>
<circle cx="1254.8" cy="944.1" r="4"/>
<circle cx="1262.2" cy="947.5" r="4"/>
<circle cx="1271.9" cy="969.1" r="4"/>
<circle cx="1289.0" cy="950.9" r="4"/>
<circle cx="1294.7" cy="968.0" r="4"/>
<circle cx="1308.9" cy="897.4" r="4"/>
<circle cx="1309.5" cy="902.5" r="4"/>
<circle cx="1345.9" cy="888.3" r="4"/>
<circle cx="1349.3" cy="895.7" r="4"/>
<circle cx="1354.4" cy="888.3" r="4"/>
<circle cx="1349.9" cy="899.7" r="4"/>
<circle cx="1384.6" cy="871.8" r="4"/>
<circle cx="1369.8" cy="927.0" r="4"/>
<circle cx="1334.5" cy="917.3" r="4"/>
<circle cx="1351.6" cy="954.9" r="4"/>
<circle cx="1357.8" cy="958.3" r="4"/>
<circle cx="1394.3" cy="950.3" r="4"/>
<circle cx="1419.9" cy="930.4" r="4"/>
<circle cx="1434.7" cy="916.2" r="4"/>
<circle cx="1484.8" cy="891.7" r="4"/>
<circle cx="1501.3" cy="946.9" r="4"/>
<circle cx="1522.3" cy="931.0" r="4"/>
<circle cx="1532.6" cy="909.3" r="4"/>
<circle cx="1558.7" cy="904.2" r="4"/>
<circle cx="1569.6" cy="874.6" r="4"/>
<circle cx="1568.4" cy="884.9" r="4"/>
<circle cx="1592.9" cy="882.6" r="4"/>
<circle cx="1604.3" cy="879.2" r="4"/>
<circle cx="1592.3" cy="897.4" r="4"/>
<circle cx="1616.2" cy="908.8" r="4"/>
<circle cx="1594.6" cy="925.8" r="4"/>
<circle cx="1615.7" cy="933.8" r="4"/>
<circle cx="1647.0" cy="936.1" r="4"/>
<circle cx="1600.9" cy="957.1" r="4"/>
<circle cx="1553.1" cy="937.2" r="4"/>
<circle cx="1553.1" cy="960.0" r="4"/>
<circle cx="1618.5" cy="844.5" r="4"/>
<circle cx="1629.3" cy="839.3" r="4"/>
<circle cx="1650.4" cy="849.0" r="4"/>
<circle cx="1648.1" cy="850.7" r="4"/>
<circle cx="1664.6" cy="871.8" r="4"/>
<circle cx="1671.4" cy="877.5" r="4"/>
<circle cx="1687.4" cy="875.2" r="4"/>
<circle cx="1725.5" cy="866.7" r="4"/>
<circle cx="1713.0" cy="905.4" r="4"/>
<circle cx="1739.7" cy="913.9" r="4"/>
<circle cx="1744.3" cy="920.2" r="4"/>
<circle cx="1754.5" cy="898.5" r="4"/>
<circle cx="1769.9" cy="892.3" r="4"/>
<circle cx="1769.9" cy="905.4" r="4"/>
<circle cx="1770.5" cy="921.9" r="4"/>
<circle cx="1742.6" cy="938.4" r="4"/>
<circle cx="1735.8" cy="950.9" r="4"/>
<circle cx="1690.8" cy="951.5" r="4"/>
<circle cx="1786.4" cy="860.4" r="4"/>
<circle cx="1809.2" cy="931.0" r="4"/>
<circle cx="1822.3" cy="928.1" r="4"/>
<circle cx="1052.2" cy="969.7" r="4"/>
<circle cx="1055.6" cy="990.2" r="4"/>
<circle cx="1107.4" cy="957.1" r="4"/>
<circle cx="1143.3" cy="984.5" r="4"/>
<circle cx="1149.5" cy="979.9" r="4"/>
<circle cx="1187.7" cy="978.2" r="4"/>
<circle cx="1203.0" cy="963.4" r="4"/>
<circle cx="1207.6" cy="954.9" r="4"/>
<circle cx="1171.7" cy="953.7" r="4"/>
<circle cx="1271.3" cy="981.1" r="4"/>
<circle cx="1275.9" cy="981.6" r="4"/>
<circle cx="973.1" cy="979.3" r="4"/>
<circle cx="985.6" cy="986.7" r="4"/>
<circle cx="980.5" cy="986.7" r="4"/>
<circle cx="968.5" cy="985.6" r="4"/>
<circle cx="994.1" cy="975.4" r="4"/>
<circle cx="163.8" cy="1102.2" r="4"/>
<circle cx="180.4" cy="1100.1" r="4"/>
<circle cx="188.1" cy="1103.8" r="4"/>
<circle cx="255.5" cy="1089.8" r="4"/>
<circle cx="271.1" cy="1091.3" r="4"/>
<circle cx="289.2" cy="1093.9" r="4"/>
<circle cx="308.4" cy="1096.5" r="4"/>
<circle cx="342.6" cy="1093.9" r="4"/>
<circle cx="362.8" cy="1091.3" r="4"/>
<circle cx="368.0" cy="1093.4" r="4"/>
<circle cx="405.3" cy="1096.0" r="4"/>
<circle cx="460.8" cy="1091.3" r="4"/>
<circle cx="601.3" cy="1088.7" r="4"/>
<circle cx="612.7" cy="1091.8" r="4"/>
<circle cx="616.8" cy="1095.0" r="4"/>
<circle cx="634.0" cy="1092.4" r="4"/>
<circle cx="737.6" cy="1089.8" r="4"/>
<circle cx="855.8" cy="1092.9" r="4"/>
<circle cx="887.5" cy="1090.3" r="4"/>
<circle cx="983.4" cy="1088.7" r="4"/>
<circle cx="995.3" cy="1093.4" r="4"/>
<circle cx="151.8" cy="1174.3" r="4"/>
<circle cx="156.0" cy="1177.9" r="4"/>
<circle cx="161.2" cy="1183.1" r="4"/>
<circle cx="138.9" cy="1195.5" r="4"/>
<circle cx="167.4" cy="1208.0" r="4"/>
<circle cx="172.6" cy="1212.1" r="4"/>
<circle cx="149.8" cy="1217.3" r="4"/>
<circle cx="157.0" cy="1231.3" r="4"/>
<circle cx="175.7" cy="1235.4" r="4"/>
<circle cx="190.7" cy="1197.6" r="4"/>
<circle cx="207.8" cy="1205.9" r="4"/>
<circle cx="195.9" cy="1227.7" r="4"/>
<circle cx="188.1" cy="1119.8" r="4"/>
<circle cx="172.6" cy="1130.2" r="4"/>
<circle cx="176.7" cy="1126.6" r="4"/>
<circle cx="204.7" cy="1125.0" r="4"/>
<circle cx="213.0" cy="1117.2" r="4"/>
<circle cx="216.6" cy="1109.5" r="4"/>
<circle cx="229.6" cy="1118.8" r="4"/>
<circle cx="240.0" cy="1125.0" r="4"/>
<circle cx="249.3" cy="1120.9" r="4"/>
<circle cx="266.9" cy="1105.3" r="4"/>
<circle cx="265.9" cy="1121.4" r="4"/>
<circle cx="264.9" cy="1131.2" r="4"/>
<circle cx="283.0" cy="1119.8" r="4"/>
<circle cx="271.1" cy="1146.8" r="4"/>
<circle cx="297.0" cy="1098.1" r="4"/>
<circle cx="342.1" cy="1106.4" r="4"/>
<circle cx="343.6" cy="1103.3" r="4"/>
<circle cx="328.1" cy="1116.2" r="4"/>
<circle cx="332.2" cy="1114.7" r="4"/>
<circle cx="347.3" cy="1112.1" r="4"/>
<circle cx="363.9" cy="1113.6" r="4"/>
<circle cx="360.2" cy="1132.8" r="4"/>
<circle cx="354.0" cy="1148.9" r="4"/>
<circle cx="342.1" cy="1146.8" r="4"/>
<circle cx="342.1" cy="1161.3" r="4"/>
<circle cx="324.5" cy="1149.9" r="4"/>
<circle cx="306.3" cy="1145.8" r="4"/>
<circle cx="315.7" cy="1161.8" r="4"/>
<circle cx="304.8" cy="1164.4" r="4"/>
<circle cx="285.1" cy="1157.7" r="4"/>
<circle cx="283.5" cy="1169.6" r="4"/>
<circle cx="217.2" cy="1150.9" r="4"/>
<circle cx="221.3" cy="1160.3" r="4"/>
<circle cx="233.2" cy="1144.7" r="4"/>
<circle cx="236.9" cy="1152.5" r="4"/>
<circle cx="233.7" cy="1163.9" r="4"/>
<circle cx="246.2" cy="1163.9" r="4"/>
<circle cx="172.6" cy="1166.5" r="4"/>
<circle cx="200.1" cy="1172.2" r="4"/>
<circle cx="196.4" cy="1176.3" r="4"/>
<circle cx="218.2" cy="1176.3" r="4"/>
<circle cx="248.8" cy="1184.6" r="4"/>
<circle cx="255.5" cy="1187.8" r="4"/>
<circle cx="252.9" cy="1192.4" r="4"/>
<circle cx="246.2" cy="1189.8" r="4"/>
<circle cx="283.0" cy="1195.0" r="4"/>
<circle cx="268.5" cy="1213.7" r="4"/>
<circle cx="290.8" cy="1220.9" r="4"/>
<circle cx="230.6" cy="1220.4" r="4"/>
<circle cx="237.4" cy="1224.0" r="4"/>
<circle cx="242.6" cy="1226.1" r="4"/>
<circle cx="229.6" cy="1225.1" r="4"/>
<circle cx="251.9" cy="1231.8" r="4"/>
<circle cx="270.6" cy="1233.9" r="4"/>
<circle cx="326.0" cy="1226.1" r="4"/>
<circle cx="351.4" cy="1227.7" r="4"/>
<circle cx="367.0" cy="1226.6" r="4"/>
<circle cx="370.6" cy="1221.4" r="4"/>
<circle cx="374.8" cy="1220.4" r="4"/>
<circle cx="393.9" cy="1222.5" r="4"/>
<circle cx="405.3" cy="1224.6" r="4"/>
<circle cx="354.0" cy="1182.0" r="4"/>
<circle cx="376.8" cy="1183.1" r="4"/>
<circle cx="400.2" cy="1174.3" r="4"/>
<circle cx="412.1" cy="1118.8" r="4"/>
<circle cx="425.6" cy="1120.9" r="4"/>
<circle cx="440.1" cy="1121.9" r="4"/>
<circle cx="388.2" cy="1134.4" r="4"/>
<circle cx="393.9" cy="1134.4" r="4"/>
<circle cx="422.4" cy="1140.6" r="4"/>
<circle cx="424.5" cy="1152.5" r="4"/>
<circle cx="438.0" cy="1157.2" r="4"/>
<circle cx="440.6" cy="1169.1" r="4"/>
<circle cx="438.5" cy="1170.6" r="4"/>
<circle cx="422.4" cy="1200.7" r="4"/>
<circle cx="435.9" cy="1194.5" r="4"/>
<circle cx="430.2" cy="1208.0" r="4"/>
<circle cx="447.3" cy="1212.6" r="4"/>
<circle cx="451.5" cy="1211.1" r="4"/>
<circle cx="472.2" cy="1202.8" r="4"/>
<circle cx="489.8" cy="1206.9" r="4"/>
<circle cx="492.9" cy="1202.3" r="4"/>
<circle cx="503.3" cy="1190.3" r="4"/>
<circle cx="512.1" cy="1172.7" r="4"/>
<circle cx="501.8" cy="1156.1" r="4"/>
<circle cx="506.9" cy="1153.0" r="4"/>
<circle cx="521.5" cy="1150.9" r="4"/>
<circle cx="482.6" cy="1129.2" r="4"/>
<circle cx="550.0" cy="1136.4" r="4"/>
<circle cx="519.4" cy="1218.9" r="4"/>
<circle cx="540.1" cy="1213.7" r="4"/>
<circle cx="542.7" cy="1201.7" r="4"/>
<circle cx="547.9" cy="1192.9" r="4"/>
<circle cx="556.2" cy="1182.0" r="4"/>
<circle cx="542.2" cy="1186.7" r="4"/>
<circle cx="566.6" cy="1222.5" r="4"/>
<circle cx="579.0" cy="1210.0" r="4"/>
<circle cx="580.6" cy="1199.2" r="4"/>
<circle cx="573.8" cy="1166.5" r="4"/>
<circle cx="575.9" cy="1158.2" r="4"/>
<circle cx="599.2" cy="1125.0" r="4"/>
<circle cx="598.7" cy="1136.9" r="4"/>
<circle cx="604.4" cy="1159.8" r="4"/>
<circle cx="620.5" cy="1166.5" r="4"/>
<circle cx="630.3" cy="1155.1" r="4"/>
<circle cx="624.6" cy="1135.4" r="4"/>
<circle cx="637.6" cy="1132.8" r="4"/>
<circle cx="636.5" cy="1138.0" r="4"/>
<circle cx="651.1" cy="1128.1" r="4"/>
<circle cx="648.0" cy="1170.1" r="4"/>
<circle cx="608.0" cy="1192.4" r="4"/>
<circle cx="614.3" cy="1189.8" r="4"/>
<circle cx="613.7" cy="1218.9" r="4"/>
<circle cx="638.6" cy="1188.8" r="4"/>
<circle cx="630.8" cy="1108.4" r="4"/>
<circle cx="643.3" cy="1113.1" r="4"/>
<circle cx="648.0" cy="1114.7" r="4"/>
<circle cx="661.4" cy="1109.5" r="4"/>
<circle cx="668.7" cy="1100.7" r="4"/>
<circle cx="675.4" cy="1143.2" r="4"/>
<circle cx="678.5" cy="1142.7" r="4"/>
<circle cx="673.9" cy="1149.4" r="4"/>
<circle cx="692.5" cy="1149.9" r="4"/>
<circle cx="707.1" cy="1145.8" r="4"/>
<circle cx="668.7" cy="1192.4" r="4"/>
<circle cx="683.2" cy="1185.2" r="4"/>
<circle cx="687.4" cy="1185.2" r="4"/>
<circle cx="699.8" cy="1204.3" r="4"/>
<circle cx="663.5" cy="1218.3" r="4"/>
<circle cx="661.4" cy="1222.5" r="4"/>
<circle cx="685.8" cy="1216.8" r="4"/>
<circle cx="715.9" cy="1097.5" r="4"/>
<circle cx="718.5" cy="1106.9" r="4"/>
<circle cx="734.5" cy="1105.3" r="4"/>
<circle cx="738.7" cy="1104.8" r="4"/>
<circle cx="715.9" cy="1121.4" r="4"/>
<circle cx="740.7" cy="1122.4" r="4"/>
<circle cx="779.1" cy="1102.7" r="4"/>
<circle cx="782.2" cy="1114.7" r="4"/>
<circle cx="777.0" cy="1119.8" r="4"/>
<circle cx="792.6" cy="1111.0" r="4"/>
<circle cx="775.5" cy="1143.2" r="4"/>
<circle cx="804.5" cy="1157.2" r="4"/>
<circle cx="816.4" cy="1161.3" r="4"/>
<circle cx="813.3" cy="1171.7" r="4"/>
<circle cx="820.6" cy="1182.0" r="4"/>
<circle cx="808.7" cy="1099.6" r="4"/>
<circle cx="813.3" cy="1105.3" r="4"/>
<circle cx="842.4" cy="1100.7" r="4"/>
<circle cx="835.6" cy="1123.5" r="4"/>
<circle cx="789.5" cy="1187.2" r="4"/>
<circle cx="762.0" cy="1193.5" r="4"/>
<circle cx="764.6" cy="1205.4" r="4"/>
<circle cx="772.4" cy="1214.7" r="4"/>
<circle cx="815.4" cy="1212.1" r="4"/>
<circle cx="827.3" cy="1219.4" r="4"/>
<circle cx="848.1" cy="1186.2" r="4"/>
<circle cx="863.6" cy="1169.1" r="4"/>
<circle cx="866.2" cy="1143.2" r="4"/>
<circle cx="883.3" cy="1163.9" r="4"/>
<circle cx="883.8" cy="1179.5" r="4"/>
<circle cx="902.0" cy="1178.4" r="4"/>
<circle cx="905.1" cy="1176.9" r="4"/>
<circle cx="918.0" cy="1177.9" r="4"/>
<circle cx="903.5" cy="1135.9" r="4"/>
<circle cx="911.3" cy="1150.9" r="4"/>
<circle cx="921.2" cy="1149.9" r="4"/>
<circle cx="908.2" cy="1146.8" r="4"/>
<circle cx="870.9" cy="1118.3" r="4"/>
<circle cx="879.7" cy="1112.1" r="4"/>
<circle cx="889.5" cy="1109.5" r="4"/>
<circle cx="904.6" cy="1111.0" r="4"/>
<circle cx="931.5" cy="1118.3" r="4"/>
<circle cx="943.4" cy="1109.5" r="4"/>
<circle cx="954.3" cy="1125.0" r="4"/>
<circle cx="966.8" cy="1127.6" r="4"/>
<circle cx="940.9" cy="1143.2" r="4"/>
<circle cx="954.3" cy="1164.9" r="4"/>
<circle cx="950.7" cy="1187.2" r="4"/>
<circle cx="968.8" cy="1182.6" r="4"/>
<circle cx="966.3" cy="1201.2" r="4"/>
<circle cx="982.8" cy="1201.7" r="4"/>
<circle cx="989.6" cy="1175.8" r="4"/>
<circle cx="995.8" cy="1144.2" r="4"/>
<circle cx="885.9" cy="1194.0" r="4"/>
<circle cx="903.5" cy="1200.7" r="4"/>
<circle cx="738.7" cy="1185.2" r="4"/>
<circle cx="740.7" cy="1219.4" r="4"/>
<circle cx="721.6" cy="1217.3" r="4"/>
<circle cx="756.3" cy="1210.6" r="4"/>
<circle cx="298.5" cy="1238.0" r="4"/>
<circle cx="361.8" cy="1246.8" r="4"/>
<circle cx="367.5" cy="1248.4" r="4"/>
<circle cx="415.2" cy="1239.1" r="4"/>
<circle cx="476.4" cy="1243.2" r="4"/>
<circle cx="547.4" cy="1237.0" r="4"/>
<circle cx="554.1" cy="1237.0" r="4"/>
<circle cx="627.7" cy="1234.9" r="4"/>
<circle cx="669.2" cy="1231.8" r="4"/>
<circle cx="688.4" cy="1233.9" r="4"/>
<circle cx="717.9" cy="1233.4" r="4"/>
<circle cx="736.1" cy="1235.4" r="4"/>
<circle cx="766.1" cy="1234.9" r="4"/>
<circle cx="311.5" cy="1247.4" r="4"/>
<circle cx="413.6" cy="1248.4" r="4"/>
<circle cx="653.1" cy="1248.4" r="4"/>
<circle cx="684.2" cy="1252.0" r="4"/>
<circle cx="777.6" cy="1241.7" r="4"/>
<circle cx="811.2" cy="1245.3" r="4"/>
<circle cx="871.9" cy="1246.3" r="4"/>
<circle cx="932.6" cy="1221.4" r="4"/>
<circle cx="944.0" cy="1225.1" r="4"/>
<circle cx="947.6" cy="1241.7" r="4"/>
<circle cx="968.8" cy="1223.5" r="4"/>
<circle cx="976.1" cy="1250.5" r="4"/>
<circle cx="980.8" cy="1249.4" r="4"/>
<circle cx="998.4" cy="1220.4" r="4"/>
<circle cx="982.8" cy="1087.9" r="4"/>
<circle cx="989.6" cy="1096.5" r="4"/>
<circle cx="1015.8" cy="1091.9" r="4"/>
<circle cx="1052.8" cy="1093.0" r="4"/>
<circle cx="1117.7" cy="1088.5" r="4"/>
<circle cx="1141.0" cy="1092.5" r="4"/>
<circle cx="1196.2" cy="1096.5" r="4"/>
<circle cx="1208.7" cy="1100.4" r="4"/>
<circle cx="1213.8" cy="1103.9" r="4"/>
<circle cx="1222.9" cy="1094.8" r="4"/>
<circle cx="1303.2" cy="1106.1" r="4"/>
<circle cx="1349.9" cy="1098.2" r="4"/>
<circle cx="1386.9" cy="1110.7" r="4"/>
<circle cx="1427.8" cy="1103.3" r="4"/>
<circle cx="1436.9" cy="1109.0" r="4"/>
<circle cx="1440.9" cy="1116.9" r="4"/>
<circle cx="1574.7" cy="1137.4" r="4"/>
<circle cx="1599.2" cy="1138.6" r="4"/>
<circle cx="1625.9" cy="1131.7" r="4"/>
<circle cx="1644.7" cy="1139.1" r="4"/>
<circle cx="1704.5" cy="1147.7" r="4"/>
<circle cx="1721.0" cy="1173.3" r="4"/>
<circle cx="1705.6" cy="1164.8" r="4"/>
<circle cx="1754.0" cy="1087.9" r="4"/>
<circle cx="1772.7" cy="1159.1" r="4"/>
<circle cx="1780.1" cy="1190.4" r="4"/>
<circle cx="1791.0" cy="1190.4" r="4"/>
<circle cx="1798.4" cy="1190.4" r="4"/>
<circle cx="1843.3" cy="1180.7" r="4"/>
<circle cx="1853.6" cy="1177.8" r="4"/>
<circle cx="1865.0" cy="1186.4" r="4"/>
<circle cx="1862.1" cy="1167.6" r="4"/>
<circle cx="1870.6" cy="1090.8" r="4"/>
<circle cx="1906.5" cy="1096.5" r="4"/>
<circle cx="1891.7" cy="1138.6" r="4"/>
<circle cx="1910.5" cy="1161.9" r="4"/>
<circle cx="1893.4" cy="1180.7" r="4"/>
<circle cx="1909.3" cy="1217.7" r="4"/>
<circle cx="1896.3" cy="1251.3" r="4"/>
<circle cx="1838.2" cy="1251.3" r="4"/>
<circle cx="979.9" cy="1250.1" r="4"/>
<circle cx="975.9" cy="1250.1" r="4"/>
<circle cx="966.8" cy="1127.8" r="4"/>
<circle cx="994.7" cy="1142.0" r="4"/>
<circle cx="1035.7" cy="1107.8" r="4"/>
<circle cx="1030.0" cy="1130.6" r="4"/>
<circle cx="1028.3" cy="1142.0" r="4"/>
<circle cx="1025.5" cy="1148.8" r="4"/>
<circle cx="1027.2" cy="1166.5" r="4"/>
<circle cx="1051.1" cy="1140.9" r="4"/>
<circle cx="1053.9" cy="1177.3" r="4"/>
<circle cx="1055.6" cy="1180.1" r="4"/>
<circle cx="1071.0" cy="1187.5" r="4"/>
<circle cx="1078.4" cy="1184.7" r="4"/>
<circle cx="1098.3" cy="1191.5" r="4"/>
<circle cx="1102.3" cy="1143.7" r="4"/>
<circle cx="1104.6" cy="1131.7" r="4"/>
<circle cx="1102.3" cy="1115.8" r="4"/>
<circle cx="1084.1" cy="1204.6" r="4"/>
<circle cx="1025.5" cy="1189.2" r="4"/>
<circle cx="1028.3" cy="1193.2" r="4"/>
<circle cx="1034.0" cy="1200.6" r="4"/>
<circle cx="1027.2" cy="1207.4" r="4"/>
<circle cx="972.5" cy="1176.1" r="4"/>
<circle cx="977.1" cy="1196.1" r="4"/>
<circle cx="966.8" cy="1201.8" r="4"/>
<circle cx="979.9" cy="1212.0" r="4"/>
<circle cx="1142.1" cy="1153.4" r="4"/>
<circle cx="1146.1" cy="1156.2" r="4"/>
<circle cx="1156.4" cy="1140.3" r="4"/>
<circle cx="1162.0" cy="1129.5" r="4"/>
<circle cx="1171.7" cy="1120.4" r="4"/>
<circle cx="1174.6" cy="1116.4" r="4"/>
<circle cx="1190.5" cy="1126.1" r="4"/>
<circle cx="1188.8" cy="1143.1" r="4"/>
<circle cx="1174.0" cy="1143.7" r="4"/>
<circle cx="1187.7" cy="1159.1" r="4"/>
<circle cx="1206.4" cy="1124.9" r="4"/>
<circle cx="1217.8" cy="1144.8" r="4"/>
<circle cx="1230.3" cy="1153.4" r="4"/>
<circle cx="1237.2" cy="1143.1" r="4"/>
<circle cx="1238.9" cy="1155.1" r="4"/>
<circle cx="1241.7" cy="1114.7" r="4"/>
<circle cx="1240.0" cy="1127.8" r="4"/>
<circle cx="1243.4" cy="1124.9" r="4"/>
<circle cx="1253.1" cy="1155.1" r="4"/>
<circle cx="1261.7" cy="1153.4" r="4"/>
<circle cx="1256.0" cy="1185.8" r="4"/>
<circle cx="1271.9" cy="1138.0" r="4"/>
<circle cx="1294.1" cy="1139.7" r="4"/>
<circle cx="1317.4" cy="1130.6" r="4"/>
<circle cx="1347.0" cy="1128.9" r="4"/>
<circle cx="1363.0" cy="1133.5" r="4"/>
<circle cx="1387.4" cy="1140.3" r="4"/>
<circle cx="1410.8" cy="1127.2" r="4"/>
<circle cx="1435.2" cy="1135.2" r="4"/>
<circle cx="1462.0" cy="1136.3" r="4"/>
<circle cx="1426.7" cy="1147.7" r="4"/>
<circle cx="1452.3" cy="1154.5" r="4"/>
<circle cx="1401.1" cy="1159.1" r="4"/>
<circle cx="1335.6" cy="1159.1" r="4"/>
<circle cx="1333.9" cy="1177.3" r="4"/>
<circle cx="1324.3" cy="1169.9" r="4"/>
<circle cx="1358.4" cy="1176.1" r="4"/>
<circle cx="1360.1" cy="1168.7" r="4"/>
<circle cx="1384.0" cy="1170.4" r="4"/>
<circle cx="1392.6" cy="1183.0" r="4"/>
<circle cx="1291.8" cy="1174.4" r="4"/>
<circle cx="1227.5" cy="1189.8" r="4"/>
<circle cx="1216.1" cy="1197.8" r="4"/>
<circle cx="1201.9" cy="1197.8" r="4"/>
<circle cx="1162.0" cy="1204.6" r="4"/>
<circle cx="1142.1" cy="1198.9" r="4"/>
<circle cx="1285.6" cy="1201.8" r="4"/>
<circle cx="1301.5" cy="1200.0" r="4"/>
<circle cx="1329.9" cy="1204.6" r="4"/>
<circle cx="1351.6" cy="1209.7" r="4"/>
<circle cx="1369.8" cy="1198.9" r="4"/>
<circle cx="1409.6" cy="1197.8" r="4"/>
<circle cx="1426.7" cy="1196.1" r="4"/>
<circle cx="1458.6" cy="1189.2" r="4"/>
<circle cx="1488.2" cy="1200.6" r="4"/>
<circle cx="1503.0" cy="1202.9" r="4"/>
<circle cx="1492.2" cy="1151.7" r="4"/>
<circle cx="1500.7" cy="1157.4" r="4"/>
<circle cx="1504.7" cy="1167.6" r="4"/>
<circle cx="1510.4" cy="1174.4" r="4"/>
<circle cx="1517.8" cy="1170.4" r="4"/>
<circle cx="1486.5" cy="1164.8" r="4"/>
<circle cx="1549.1" cy="1170.4" r="4"/>
<circle cx="1560.5" cy="1159.1" r="4"/>
<circle cx="1569.6" cy="1157.4" r="4"/>
<circle cx="1569.6" cy="1174.4" r="4"/>
<circle cx="1584.4" cy="1180.7" r="4"/>
<circle cx="1572.4" cy="1193.2" r="4"/>
<circle cx="1618.5" cy="1188.7" r="4"/>
<circle cx="1633.3" cy="1185.2" r="4"/>
<circle cx="1636.7" cy="1177.8" r="4"/>
<circle cx="1637.3" cy="1163.0" r="4"/>
<circle cx="1650.4" cy="1172.2" r="4"/>
<circle cx="1683.4" cy="1192.1" r="4"/>
<circle cx="1631.6" cy="1204.6" r="4"/>
<circle cx="1553.6" cy="1211.4" r="4"/>
<circle cx="1156.4" cy="1217.1" r="4"/>
<circle cx="1221.8" cy="1218.8" r="4"/>
<circle cx="1267.3" cy="1221.7" r="4"/>
<circle cx="1324.3" cy="1222.8" r="4"/>
<circle cx="1375.5" cy="1210.3" r="4"/>
<circle cx="1385.7" cy="1209.1" r="4"/>
<circle cx="1409.6" cy="1208.6" r="4"/>
<circle cx="1452.3" cy="1204.6" r="4"/>
<circle cx="1503.5" cy="1204.6" r="4"/>
<circle cx="982.8" cy="1224.5" r="4"/>
<circle cx="1002.7" cy="1239.9" r="4"/>
<circle cx="1081.2" cy="1242.7" r="4"/>
<circle cx="1105.1" cy="1222.8" r="4"/>
<circle cx="1113.7" cy="1249.0" r="4"/>
<circle cx="1164.9" cy="1221.7" r="4"/>
<circle cx="1234.9" cy="1245.6" r="4"/>
<circle cx="1256.0" cy="1249.0" r="4"/>
<circle cx="1264.5" cy="1241.6" r="4"/>
<circle cx="1275.9" cy="1233.1" r="4"/>
<circle cx="1318.6" cy="1231.3" r="4"/>
<circle cx="1340.2" cy="1244.4" r="4"/>
<circle cx="1369.8" cy="1244.4" r="4"/>
<circle cx="1365.8" cy="1251.3" r="4"/>
<circle cx="1402.2" cy="1237.0" r="4"/>
<circle cx="1425.6" cy="1234.2" r="4"/>
<circle cx="1448.3" cy="1228.5" r="4"/>
<circle cx="1484.8" cy="1241.6" r="4"/>
<circle cx="1526.9" cy="1250.1" r="4"/>
<circle cx="1537.7" cy="1248.4" r="4"/>
<circle cx="1569.0" cy="1249.0" r="4"/>
<circle cx="1610.5" cy="1234.8" r="4"/>
<circle cx="1625.9" cy="1239.9" r="4"/>
<circle cx="1658.9" cy="1234.8" r="4"/>
<circle cx="1661.2" cy="1237.0" r="4"/>
<circle cx="1669.7" cy="1238.7" r="4"/>
<circle cx="1673.1" cy="1244.4" r="4"/>
<circle cx="1675.4" cy="1249.0" r="4"/>
<circle cx="1709.6" cy="1251.3" r="4"/>
<circle cx="1734.0" cy="1238.7" r="4"/>
<circle cx="1736.9" cy="1230.2" r="4"/>
<circle cx="1762.5" cy="1229.1" r="4"/>
<circle cx="1808.0" cy="1227.4" r="4"/>
<circle cx="1828.0" cy="1235.9" r="4"/>
<circle cx="1859.3" cy="1247.3" r="4"/>
<circle cx="1874.6" cy="1238.7" r="4"/>
<circle cx="1862.1" cy="1217.7" r="4"/>
<circle cx="1865.5" cy="1225.7" r="4"/>
<circle cx="1696.5" cy="1218.8" r="4"/>
<circle cx="1705.6" cy="1202.9" r="4"/>
<circle cx="1712.4" cy="1204.6" r="4"/>
<circle cx="1717.0" cy="1206.3" r="4"/>
<circle cx="1722.7" cy="1208.6" r="4"/>
<circle cx="1739.7" cy="1196.1" r="4"/>
<circle cx="1601.4" cy="1217.1" r="4"/>
<circle cx="1628.8" cy="1205.7" r="4"/>
<circle cx="1554.8" cy="1207.4" r="4"/>
<circle cx="1378.3" cy="1093.0" r="4"/>
<circle cx="1452.3" cy="1098.2" r="4"/>
<circle cx="1528.0" cy="1088.5" r="4"/>
<circle cx="1538.3" cy="1101.0" r="4"/>
<circle cx="1574.7" cy="1120.4" r="4"/>
<circle cx="1590.6" cy="1111.8" r="4"/>
<circle cx="1617.4" cy="1102.1" r="4"/>
<circle cx="1624.2" cy="1095.9" r="4"/>
<circle cx="1634.4" cy="1092.5" r="4"/>
<circle cx="1629.3" cy="1118.1" r="4"/>
<circle cx="1658.9" cy="1106.7" r="4"/>
<circle cx="1661.8" cy="1114.7" r="4"/>
<circle cx="1667.5" cy="1120.4" r="4"/>
<circle cx="1697.1" cy="1105.6" r="4"/>
<circle cx="1730.1" cy="1103.3" r="4"/>
<circle cx="1748.3" cy="1139.1" r="4"/>
<circle cx="1756.8" cy="1119.8" r="4"/>
<circle cx="1777.9" cy="1108.4" r="4"/>
<circle cx="1785.3" cy="1148.8" r="4"/>
<circle cx="1836.5" cy="1102.1" r="4"/>
<circle cx="1839.3" cy="1110.7" r="4"/>
<circle cx="1836.5" cy="1113.5" r="4"/>
<circle cx="1829.1" cy="1128.9" r="4"/>
<circle cx="1843.9" cy="1126.6" r="4"/>
<circle cx="1839.3" cy="1140.3" r="4"/>
<circle cx="1858.1" cy="1134.0" r="4"/>
<circle cx="1868.4" cy="1157.9" r="4"/>
<circle cx="1744.3" cy="1123.8" r="4"/>
</g>
<path d="M169.7,120.0 C170.8,117.1 175.2,111.8 182.8,109.1 C190.5,106.3 202.9,104.9 215.7,103.6 C228.4,102.3 241.2,102.0 259.5,101.4 C277.7,100.9 303.2,100.4 325.1,100.3 C347.0,100.2 370.7,100.1 390.8,100.8 C410.9,101.4 430.9,102.5 445.5,104.3 C460.1,106.0 469.2,108.6 478.4,111.3 C487.5,113.9 495.5,117.1 500.3,120.0 C505.0,122.9 506.8,126.2 506.8,128.8 C506.8,131.3 505.0,133.0 500.3,135.4 C495.5,137.7 487.5,140.5 478.4,143.0 C469.2,145.6 453.9,148.3 445.5,150.7 C437.1,153.0 431.7,155.3 428.0,157.2 C424.3,159.1 423.8,160.8 423.2,162.1 C422.7,163.3 422.8,163.7 424.7,164.9 C426.6,166.1 429.3,167.3 434.6,169.3 C439.9,171.3 447.4,174.2 456.5,176.9 C465.6,179.7 481.5,183.1 489.3,185.7 C497.2,188.3 501.7,190.4 503.5,192.3 C505.4,194.1 504.5,194.8 500.3,196.6 C496.1,198.5 489.3,201.2 478.4,203.2 C467.4,205.2 452.8,207.5 434.6,208.7 C416.3,209.9 390.8,210.4 368.9,210.2 C347.0,210.0 319.7,209.1 303.2,207.6 C286.8,206.1 277.7,203.9 270.4,201.0 C263.1,198.1 260.9,193.0 259.5,190.1 C258.0,187.2 259.5,186.4 261.6,183.5 C263.8,180.6 268.6,176.0 272.6,172.6 C276.6,169.1 283.9,165.1 285.7,162.7 C287.6,160.3 286.1,160.0 283.5,158.3 C281.0,156.7 278.1,155.2 270.4,152.9 C262.7,150.5 248.5,147.0 237.6,144.1 C226.6,141.2 214.9,138.3 204.7,135.4 C194.5,132.4 182.1,129.1 176.3,126.6 C170.4,124.0 168.6,122.9 169.7,120.0Z" fill="#8DC21F" fill-opacity="0.5" stroke="#000" stroke-width="2.4" stroke-linejoin="round"/>
<path d="M136.3,435.4 C136.3,435.4 218.3,427.7 255.5,425.0 C292.6,422.3 324.6,420.6 359.2,419.3 C393.8,418.0 435.3,418.1 462.9,417.2 C490.5,416.3 511.2,415.4 525.0,414.1 C538.8,412.8 545.8,411.3 545.8,409.5 C545.8,407.7 538.8,405.2 525.0,403.2 C511.2,401.2 485.3,399.9 462.9,397.5 C440.4,395.1 405.4,392.1 390.3,388.7 C375.2,385.2 372.2,380.9 372.2,376.8 C372.2,372.7 379.5,367.3 390.3,363.8 C401.1,360.3 416.3,357.9 437.0,356.0 C457.7,354.1 484.5,353.2 514.7,352.4 C544.9,351.5 566.5,351.4 618.4,350.9 C670.2,350.4 762.2,349.2 825.8,349.3 C889.4,349.4 943.7,350.8 1000.0,351.5 C1056.3,352.2 1109.2,353.4 1163.8,353.5 C1218.4,353.6 1277.6,352.3 1327.7,352.4 C1377.8,352.5 1433.3,352.8 1464.2,354.0 C1495.1,355.2 1504.2,357.9 1513.3,359.5 C1522.4,361.1 1529.4,362.1 1518.8,363.9 C1508.2,365.7 1472.6,368.5 1449.5,370.3 C1426.4,372.1 1399.6,373.3 1380.4,374.9 C1361.2,376.5 1345.5,378.0 1334.3,379.8 C1323.1,381.6 1317.2,383.6 1313.0,385.5 C1308.8,387.4 1308.5,389.4 1309.0,391.1 C1309.5,392.8 1309.8,393.6 1315.9,395.7 C1322.1,397.8 1335.2,401.2 1345.9,403.7 C1356.7,406.2 1371.6,408.3 1380.4,410.6 C1389.2,412.9 1395.0,415.5 1398.8,417.6 C1402.6,419.7 1403.5,421.4 1403.5,423.3 C1403.5,425.2 1401.1,426.8 1398.8,429.1 C1396.5,431.4 1392.7,433.7 1389.6,437.1 C1386.5,440.6 1385.8,446.2 1380.4,449.8 C1375.0,453.4 1368.9,455.7 1357.4,459.0 C1345.9,462.3 1330.5,466.3 1311.3,469.4 C1292.1,472.5 1269.1,475.2 1242.2,477.5 C1215.3,479.8 1175.4,481.9 1150.0,483.2 C1124.6,484.5 1115.0,484.8 1090.0,485.5 C1065.0,486.2 1044.0,487.4 1000.0,487.5 C956.0,487.6 889.4,486.1 825.8,486.2 C762.2,486.3 678.9,487.7 618.4,488.3 C557.9,488.9 514.7,489.6 462.9,489.8 C411.1,490.0 350.6,489.8 307.4,489.3 C264.2,488.8 232.2,487.9 203.7,486.7 C175.2,485.5 136.3,482.0 136.3,482.0 L136.3,435.4Z" fill="#8DC21F" fill-opacity="0.5" stroke="#000" stroke-width="2.4" stroke-linejoin="round"/>
<path d="M201.4,609.5 C199.5,605.5 203.3,603.5 210.6,601.1 C217.9,598.7 227.9,596.7 245.2,595.3 C262.5,593.9 287.4,593.3 314.3,592.6 C341.2,591.9 373.1,591.7 406.5,591.2 C439.9,590.8 462.1,590.3 514.7,589.9 C567.3,589.5 662.4,588.1 722.1,588.6 C781.8,589.1 833.3,591.3 872.8,593.0 C912.3,594.7 936.5,596.7 959.0,599.0 C981.5,601.3 994.7,603.4 1007.6,606.7 C1020.5,610.0 1026.8,615.4 1036.4,619.0 C1046.0,622.6 1053.2,625.2 1065.2,628.3 C1077.2,631.4 1098.1,635.2 1108.4,637.7 C1118.7,640.2 1123.0,641.6 1127.1,643.4 C1131.2,645.2 1132.9,646.6 1132.9,648.5 C1132.9,650.4 1131.2,652.2 1127.1,655.0 C1123.0,657.8 1113.7,661.6 1108.4,665.0 C1103.1,668.4 1097.7,672.5 1095.4,675.1 C1093.1,677.8 1093.7,678.7 1094.7,680.9 C1095.7,683.1 1096.5,685.2 1101.2,688.1 C1105.9,691.0 1117.5,695.5 1122.8,698.2 C1128.1,701.0 1131.9,702.7 1132.9,704.6 C1133.9,706.5 1132.7,708.1 1128.6,709.7 C1124.5,711.3 1119.0,712.6 1108.4,714.0 C1097.8,715.4 1082.0,716.9 1065.2,718.3 C1048.4,719.7 1030.1,721.4 1007.6,722.5 C985.1,723.6 961.3,724.5 930.0,724.8 C898.7,725.1 854.6,724.9 820.0,724.5 C785.4,724.1 773.0,723.8 722.1,722.5 C671.2,721.2 567.3,718.8 514.7,717.0 C462.1,715.2 434.1,713.9 406.5,711.7 C378.9,709.5 362.5,706.3 348.9,703.6 C335.3,700.9 328.9,697.9 324.7,695.6 C320.5,693.3 322.1,691.9 323.5,689.8 C324.9,687.7 329.9,685.4 332.8,682.9 C335.7,680.4 340.0,676.9 340.8,674.8 C341.6,672.7 341.8,672.3 337.4,670.2 C333.0,668.1 325.8,665.9 314.3,662.2 C302.8,658.6 279.7,652.3 268.2,648.3 C256.7,644.3 252.9,641.8 245.2,638.0 C237.5,634.2 229.5,630.0 222.2,625.3 C214.9,620.5 203.3,613.5 201.4,609.5Z" fill="#8DC21F" fill-opacity="0.5" stroke="#000" stroke-width="2.4" stroke-linejoin="round"/>
<path d="M136.5,849.7 C136.5,849.7 173.4,843.5 196.0,841.5 C218.6,839.5 242.4,838.7 272.0,837.7 C301.6,836.7 325.5,835.9 373.5,835.7 C421.5,835.5 495.6,836.0 560.0,836.3 C624.4,836.6 693.3,837.1 760.0,837.6 C826.7,838.1 854.4,839.5 960.0,839.2 C1065.6,838.9 1393.7,835.9 1393.7,835.9 C1393.7,835.9 1065.6,839.3 960.0,840.3 C854.4,841.3 826.7,841.0 760.0,841.8 C693.3,842.6 624.4,844.2 560.0,845.2 C495.6,846.2 434.2,847.1 373.5,847.8 C312.8,848.5 235.5,849.0 196.0,849.3 C156.5,849.6 136.5,849.7 136.5,849.7Z" fill="#8DC21F" fill-opacity="0.5" stroke="#000" stroke-width="2.4" stroke-linejoin="round"/>
<path d="M136.5,884.6 C136.5,884.6 180.6,891.2 196.0,893.5 C211.4,895.8 220.8,896.8 229.0,898.6 C237.2,900.4 246.3,902.1 245.0,904.4 C243.7,906.7 231.7,908.8 221.4,912.5 C211.1,916.2 197.6,921.2 183.4,926.5 C169.2,931.8 136.5,944.2 136.5,944.2 L136.5,884.6Z" fill="#8DC21F" fill-opacity="0.5" stroke="#000" stroke-width="2.4" stroke-linejoin="round"/>
<path d="M136.5,993.1 C136.5,993.1 228.1,983.2 272.0,978.5 C315.9,973.8 364.1,968.7 400.0,965.0 C435.9,961.3 460.9,958.9 487.6,956.5 C514.3,954.1 530.1,953.8 560.0,950.5 C589.9,947.2 623.6,941.5 666.7,936.6 C709.8,931.7 766.6,926.6 818.8,920.9 C871.0,915.2 939.4,906.8 980.0,902.4 C1020.6,898.0 1027.8,898.5 1062.4,894.5 C1097.0,890.5 1138.4,884.1 1187.7,878.6 C1237.0,873.1 1301.5,867.2 1358.4,861.5 C1415.3,855.8 1485.4,848.8 1529.2,844.5 C1573.0,840.2 1621.0,835.6 1621.0,835.6 C1621.0,835.6 1694.7,838.5 1715.7,839.7 C1736.7,840.9 1731.4,841.2 1747.2,842.8 C1763.0,844.4 1797.0,847.0 1810.4,849.1 C1823.8,851.2 1825.6,853.1 1827.7,855.5 C1829.8,857.9 1826.4,860.4 1823.0,863.3 C1819.6,866.2 1810.6,869.6 1807.2,872.8 C1803.8,876.0 1802.5,878.1 1802.5,882.3 C1802.5,886.5 1803.8,892.8 1807.2,898.1 C1810.6,903.4 1817.2,909.2 1823.0,913.9 C1828.8,918.6 1838.5,923.6 1841.9,926.5 C1845.3,929.4 1848.8,928.8 1843.5,931.2 C1838.2,933.6 1826.5,936.8 1810.4,940.7 C1794.4,944.7 1768.2,951.2 1747.2,954.9 C1726.2,958.6 1705.1,961.3 1684.1,962.8 C1663.1,964.3 1642.0,963.6 1621.0,963.7 C1600.0,963.9 1578.8,963.3 1557.8,963.7 C1536.8,964.1 1521.0,964.2 1494.7,965.9 C1468.4,967.6 1429.1,971.6 1400.0,973.8 C1370.9,976.0 1345.9,977.3 1320.0,979.0 C1294.1,980.7 1276.1,981.7 1244.6,983.9 C1213.0,986.1 1168.7,990.2 1130.7,992.4 C1092.8,994.6 1045.3,996.0 1016.9,997.0 C988.4,998.0 1005.8,997.4 960.0,998.1 C914.2,998.8 808.7,999.9 742.0,1001.0 C675.3,1002.1 613.0,1003.8 560.0,1004.5 C507.0,1005.2 468.0,1005.4 424.2,1005.4 C380.4,1005.4 335.4,1005.2 297.4,1004.3 C259.4,1003.4 222.8,1001.9 196.0,1000.0 C169.2,998.1 136.5,993.1 136.5,993.1Z" fill="#8DC21F" fill-opacity="0.5" stroke="#000" stroke-width="2.4" stroke-linejoin="round"/>
<path d="M310.6,866.1 C310.6,864.8 312.3,863.5 322.8,862.6 C333.3,861.7 358.7,860.6 373.5,860.6 C388.3,860.6 400.2,861.3 411.5,862.6 C422.8,863.9 439.3,866.6 441.4,868.2 C443.5,869.8 435.5,871.2 424.2,872.0 C412.9,872.8 390.4,873.4 373.5,873.2 C356.6,873.0 333.3,871.9 322.8,870.7 C312.3,869.5 310.6,867.5 310.6,866.1Z" fill="#E94D97" fill-opacity="0.5" stroke="#000" stroke-width="2.4" stroke-linejoin="round"/>
<path d="M532.9,886.0 C534.4,884.0 541.4,881.9 551.0,880.8 C560.6,879.7 567.2,880.2 590.7,879.6 C614.2,879.0 658.3,877.7 692.1,877.0 C725.9,876.3 759.7,875.2 793.5,875.3 C827.3,875.4 867.1,876.3 894.9,877.5 C922.6,878.7 932.1,879.8 960.0,882.5 C987.9,885.2 1034.0,890.9 1062.4,894.0 C1090.9,897.1 1109.8,898.8 1130.7,901.4 C1151.6,904.0 1171.6,906.6 1187.7,909.9 C1203.8,913.2 1218.0,917.5 1227.5,921.3 C1237.0,925.1 1244.6,928.9 1244.6,932.7 C1244.6,936.5 1237.0,941.2 1227.5,944.0 C1218.0,946.8 1203.8,948.3 1187.7,949.7 C1171.6,951.1 1149.7,951.9 1130.7,952.6 C1111.7,953.3 1092.8,953.6 1073.8,953.7 C1054.8,953.8 1032.5,953.7 1016.9,953.2 C1001.3,952.7 991.9,952.0 980.0,950.5 C968.1,949.0 959.8,947.4 945.6,944.2 C931.4,941.0 916.0,935.5 894.9,931.5 C873.8,927.5 839.9,922.4 818.8,920.1 C797.7,917.8 789.2,918.9 768.1,917.6 C747.0,916.3 717.5,914.4 692.1,912.5 C666.8,910.6 637.1,908.5 616.0,906.2 C594.9,903.9 577.6,900.8 565.3,898.6 C553.0,896.4 547.4,895.1 542.0,893.0 C536.6,890.9 531.4,888.0 532.9,886.0Z" fill="#E94D97" fill-opacity="0.5" stroke="#000" stroke-width="2.4" stroke-linejoin="round"/>
<path d="M273.4,973.4 C273.4,970.0 284.9,965.0 297.4,962.0 C309.8,959.0 327.0,957.1 348.1,955.6 C369.2,954.1 398.9,953.3 424.2,953.1 C449.5,952.9 477.6,953.7 500.2,954.3 C522.8,954.9 532.2,955.8 560.0,956.9 C587.8,958.0 627.8,960.1 666.7,961.0 C705.6,961.9 751.2,962.4 793.5,962.0 C835.8,961.6 890.6,959.2 920.2,958.9 C949.8,958.6 959.9,958.6 970.9,960.0 C981.9,961.4 990.2,963.9 986.0,967.0 C981.8,970.1 969.2,976.1 945.6,978.4 C922.0,980.7 878.0,981.0 844.2,981.0 C810.4,981.0 772.4,978.6 742.8,978.4 C713.2,978.1 697.2,978.4 666.7,979.5 C636.2,980.6 592.0,983.6 560.0,985.0 C528.0,986.4 506.0,987.6 474.9,988.0 C443.8,988.4 403.1,988.3 373.5,987.3 C343.9,986.3 314.1,984.5 297.4,982.2 C280.7,979.9 273.4,976.8 273.4,973.4Z" fill="#E94D97" fill-opacity="0.5" stroke="#000" stroke-width="2.4" stroke-linejoin="round"/>
<path d="M136.3,1092.4 L197.5,1088.7 L136.3,1092.4Z" fill="#8DC21F" fill-opacity="0.5" stroke="#000" stroke-width="2.4" stroke-linejoin="round"/>
<path d="M1328.8,1087.9 C1328.8,1087.9 1475.7,1087.9 1529.2,1088.0 C1582.7,1088.1 1615.6,1088.3 1650.0,1088.7 C1684.4,1089.1 1707.2,1089.4 1735.8,1090.4 C1764.4,1091.4 1798.7,1093.0 1821.6,1094.7 C1844.5,1096.4 1860.2,1098.6 1873.1,1100.7 C1886.0,1102.8 1893.2,1104.7 1898.9,1107.6 C1904.6,1110.5 1906.9,1114.8 1907.5,1117.9 C1908.1,1121.1 1905.2,1123.3 1902.3,1126.5 C1899.4,1129.7 1893.4,1133.4 1890.3,1136.8 C1887.2,1140.2 1884.0,1144.2 1883.4,1147.1 C1882.8,1150.0 1884.3,1151.4 1886.9,1154.0 C1889.5,1156.6 1892.3,1158.9 1898.9,1162.5 C1905.5,1166.1 1926.3,1175.4 1926.3,1175.4 L1328.8,1087.9Z" fill="#8DC21F" fill-opacity="0.5" stroke="#000" stroke-width="2.4" stroke-linejoin="round"/>
<path d="M136.3,1242.7 L1926.3,1186.6 C1926.3,1186.6 1912.3,1193.5 1907.5,1196.9 C1902.7,1200.3 1898.4,1204.6 1897.2,1207.2 C1896.0,1209.8 1897.5,1209.7 1900.6,1212.3 C1903.7,1214.9 1912.1,1219.4 1916.0,1222.6 C1919.9,1225.8 1923.2,1228.6 1923.8,1231.2 C1924.4,1233.8 1923.7,1235.8 1919.5,1238.1 C1915.3,1240.4 1909.5,1242.8 1898.9,1244.9 C1888.3,1247.0 1874.6,1249.2 1856.0,1250.9 C1837.4,1252.6 1813.0,1254.1 1787.3,1255.2 C1761.5,1256.3 1725.5,1256.9 1701.5,1257.3 C1677.5,1257.7 1690.7,1257.5 1643.0,1257.5 C1595.3,1257.5 1491.2,1257.6 1415.3,1257.5 C1339.4,1257.4 1256.9,1257.2 1187.7,1257.0 C1118.5,1256.8 1077.6,1256.5 1000.0,1256.5 C922.4,1256.5 811.6,1257.0 722.1,1257.0 C632.6,1257.0 540.7,1257.3 462.9,1256.6 C385.1,1255.8 309.9,1254.8 255.5,1252.5 C201.1,1250.2 136.3,1242.7 136.3,1242.7Z" fill="#8DC21F" fill-opacity="0.5" stroke="#000" stroke-width="2.4" stroke-linejoin="round"/>
<path d="M148.6,1124.4 C150.2,1121.7 151.5,1118.7 161.3,1115.2 C171.1,1111.8 192.0,1106.2 207.4,1103.7 C222.8,1101.2 219.6,1101.0 253.5,1100.2 C287.4,1099.4 358.8,1099.1 411.0,1099.1 C463.2,1099.1 514.8,1100.5 566.6,1100.1 C618.5,1099.7 670.3,1097.1 722.1,1096.5 C773.9,1095.9 838.0,1096.0 877.6,1096.5 C917.2,1097.0 908.3,1097.4 960.0,1099.3 C1011.7,1101.2 1131.0,1105.9 1187.7,1107.8 C1244.4,1109.7 1262.6,1109.8 1300.0,1110.5 C1337.4,1111.2 1384.0,1111.4 1412.0,1112.3 C1440.0,1113.2 1454.9,1114.7 1468.0,1116.1 C1481.1,1117.5 1484.8,1118.6 1490.4,1120.5 C1496.0,1122.4 1498.2,1124.6 1501.6,1127.3 C1505.0,1130.0 1507.2,1133.8 1510.9,1136.6 C1514.6,1139.4 1515.6,1141.6 1524.0,1144.1 C1532.4,1146.6 1542.6,1148.4 1561.3,1151.5 C1580.0,1154.6 1614.2,1159.2 1636.0,1162.7 C1657.8,1166.2 1678.6,1169.7 1692.0,1172.8 C1705.4,1175.9 1716.2,1178.1 1716.2,1181.4 C1716.2,1184.7 1702.3,1188.9 1692.0,1192.6 C1681.7,1196.3 1676.4,1199.4 1654.6,1203.8 C1632.8,1208.2 1595.5,1215.1 1561.3,1218.7 C1527.1,1222.3 1492.6,1224.2 1449.3,1225.5 C1406.0,1226.8 1345.1,1226.8 1301.5,1226.2 C1257.9,1225.6 1225.7,1223.2 1187.7,1221.7 C1149.8,1220.2 1105.1,1218.5 1073.8,1217.1 C1042.5,1215.7 1024.1,1213.7 1000.0,1213.2 C975.9,1212.7 949.8,1213.2 929.4,1214.2 C909.0,1215.2 894.9,1216.6 877.6,1219.4 C860.3,1222.2 843.1,1227.9 825.8,1231.3 C808.5,1234.7 808.5,1238.0 773.9,1240.0 C739.3,1242.0 678.9,1242.7 618.4,1243.3 C557.9,1243.9 468.0,1244.2 411.0,1243.5 C354.0,1242.8 306.6,1240.4 276.5,1239.0 C246.4,1237.6 243.1,1236.8 230.4,1235.0 C217.7,1233.2 206.2,1230.4 200.5,1228.1 C194.8,1225.8 194.8,1223.9 195.9,1221.2 C197.1,1218.5 201.7,1214.7 207.4,1212.0 C213.2,1209.3 225.8,1207.0 230.4,1205.1 C235.0,1203.2 235.0,1202.0 235.0,1200.5 C235.0,1199.0 235.0,1197.5 230.4,1195.9 C225.8,1194.4 217.0,1193.5 207.4,1191.2 C197.8,1188.9 181.2,1185.1 172.8,1182.0 C164.4,1178.9 159.4,1175.5 156.7,1172.8 C154.0,1170.1 155.2,1168.6 156.7,1165.9 C158.2,1163.2 163.4,1159.8 165.9,1156.7 C168.4,1153.6 172.5,1150.6 171.7,1147.5 C170.9,1144.4 164.6,1140.9 161.3,1138.2 C158.0,1135.5 154.1,1133.6 152.0,1131.3 C149.9,1129.0 147.0,1127.1 148.6,1124.4Z" fill="#E94D97" fill-opacity="0.5" stroke="#000" stroke-width="2.4" stroke-linejoin="round"/>
<line x1="116" y1="1317.7" x2="1945" y2="1317.7" stroke="#000" stroke-width="2.9"/>
<line x1="137.00" y1="1315.8" x2="137.00" y2="1323.5" stroke="#000" stroke-width="4.2"/>
<line x1="581.42" y1="1315.8" x2="581.42" y2="1323.5" stroke="#000" stroke-width="4.2"/>
<line x1="1025.85" y1="1315.8" x2="1025.85" y2="1323.5" stroke="#000" stroke-width="4.2"/>
<line x1="1470.28" y1="1315.8" x2="1470.28" y2="1323.5" stroke="#000" stroke-width="4.2"/>
<line x1="1914.70" y1="1315.8" x2="1914.70" y2="1323.5" stroke="#000" stroke-width="4.2"/>
<defs><clipPath id="pc"><rect x="133" y="1516.6" width="1815" height="760"/></clipPath></defs>
<g clip-path="url(#pc)">
<polygon points="151.0,2266.0 170.9,2262.3 190.9,2258.5 210.8,2254.8 230.8,2251.0 250.7,2247.3 270.7,2243.5 290.6,2239.8 310.6,2236.3 330.5,2233.0 350.4,2229.7 370.4,2226.4 390.3,2223.1 410.3,2219.4 430.2,2215.7 450.2,2212.0 470.1,2208.2 490.0,2204.5 510.0,2200.7 529.9,2196.9 549.9,2193.1 569.8,2189.3 589.8,2185.5 609.7,2181.7 629.7,2177.9 649.6,2174.4 669.5,2171.6 689.5,2168.9 709.4,2166.4 729.4,2164.2 749.3,2162.0 769.3,2159.8 789.2,2157.5 809.1,2154.7 829.1,2151.7 849.0,2148.7 869.0,2145.7 888.9,2142.5 908.9,2138.7 928.8,2134.9 948.8,2131.0 968.7,2127.2 988.6,2122.9 1008.6,2118.4 1028.5,2113.8 1048.5,2109.1 1068.4,2103.3 1088.4,2097.4 1108.3,2091.5 1128.2,2085.5 1148.2,2079.4 1168.1,2073.8 1188.1,2068.2 1208.0,2063.3 1228.0,2058.6 1247.9,2053.9 1267.9,2048.9 1287.8,2043.6 1307.7,2038.2 1327.7,2032.8 1347.6,2028.0 1367.6,2023.3 1387.5,2018.6 1407.5,2014.2 1427.4,2010.2 1447.3,2006.3 1467.3,2002.3 1487.2,1998.4 1507.2,1993.8 1527.1,1987.5 1547.1,1981.3 1567.0,1975.2 1587.0,1969.4 1606.9,1963.6 1626.8,1957.8 1646.8,1952.0 1666.7,1944.6 1686.7,1934.3 1706.6,1921.2 1726.6,1912.2 1746.5,1903.2 1766.4,1893.9 1786.4,1883.7 1806.3,1873.6 1826.3,1863.8 1846.2,1854.0 1866.2,1844.9 1886.1,1835.9 1906.1,1827.0 1926.0,1818.0 1926.0,1909.0 1906.1,1917.2 1886.1,1925.4 1866.2,1933.6 1846.2,1941.7 1826.3,1949.9 1806.3,1958.1 1786.4,1966.1 1766.4,1973.9 1746.5,1980.9 1726.6,1987.9 1706.6,1994.9 1686.7,2005.1 1666.7,2012.3 1646.8,2016.7 1626.8,2020.4 1606.9,2024.0 1587.0,2027.7 1567.0,2031.3 1547.1,2035.3 1527.1,2039.4 1507.2,2043.5 1487.2,2046.9 1467.3,2050.0 1447.3,2053.2 1427.4,2056.3 1407.5,2059.5 1387.5,2062.9 1367.6,2066.4 1347.6,2069.9 1327.7,2073.5 1307.7,2077.6 1287.8,2081.8 1267.9,2086.0 1247.9,2089.8 1228.0,2093.3 1208.0,2096.8 1188.1,2100.5 1168.1,2104.9 1148.2,2109.3 1128.2,2114.2 1108.3,2119.0 1088.4,2124.2 1068.4,2129.7 1048.5,2135.2 1028.5,2139.6 1008.6,2143.8 988.6,2148.0 968.7,2151.9 948.8,2155.4 928.8,2158.9 908.9,2162.3 888.9,2165.8 869.0,2168.7 849.0,2171.3 829.1,2173.9 809.1,2176.6 789.2,2179.1 769.3,2181.0 749.3,2182.9 729.4,2184.7 709.4,2186.6 689.5,2188.6 669.5,2190.6 649.6,2192.7 629.7,2195.6 609.7,2198.7 589.8,2201.9 569.8,2205.0 549.9,2208.1 529.9,2211.2 510.0,2214.3 490.0,2217.5 470.1,2220.6 450.2,2223.8 430.2,2227.0 410.3,2230.2 390.3,2233.4 370.4,2236.2 350.4,2239.0 330.5,2241.7 310.6,2244.5 290.6,2247.3 270.7,2249.9 250.7,2252.6 230.8,2255.3 210.8,2258.0 190.9,2260.6 170.9,2263.3 151.0,2266.0" fill="#8BC21E" fill-opacity="0.1"/>
<path d="M151.0,2266.0 C175.8,2262.0 259.8,2248.3 300.0,2242.0 C340.2,2235.7 361.3,2233.0 392.0,2228.0 C422.7,2223.0 453.2,2217.3 484.0,2212.0 C514.8,2206.7 549.6,2200.7 576.5,2196.0 C603.4,2191.3 625.0,2187.1 645.6,2184.0 C666.2,2180.9 675.6,2180.3 700.0,2177.5 C724.4,2174.7 761.3,2171.1 792.0,2167.0 C822.7,2162.9 853.2,2158.3 884.0,2153.0 C914.8,2147.7 949.5,2140.7 976.5,2135.0 C1003.5,2129.3 1025.4,2124.3 1046.0,2119.0 C1066.6,2113.7 1082.8,2107.8 1100.0,2103.0 C1117.2,2098.2 1133.7,2093.9 1149.0,2090.0 C1164.3,2086.1 1173.3,2083.6 1192.0,2079.5 C1210.7,2075.4 1238.0,2070.7 1261.0,2065.7 C1284.0,2060.7 1306.9,2054.6 1330.0,2049.6 C1353.1,2044.6 1376.4,2040.4 1399.5,2035.8 C1422.6,2031.2 1452.0,2025.3 1468.7,2022.0 C1485.5,2018.7 1484.6,2019.5 1500.0,2016.0 C1515.4,2012.5 1535.2,2007.0 1561.0,2001.0 C1586.8,1995.0 1635.2,1984.8 1655.0,1980.0 C1674.8,1975.2 1672.0,1975.7 1680.0,1972.0 C1688.0,1968.3 1688.5,1964.5 1703.0,1958.0 C1717.5,1951.5 1744.0,1942.5 1767.0,1933.0 C1790.0,1923.5 1814.5,1912.3 1841.0,1901.0 C1867.5,1889.7 1911.8,1871.0 1926.0,1865.0" fill="none" stroke="#8BC21E" stroke-width="5" stroke-linejoin="round" stroke-linecap="butt"/>
<polygon points="151.0,2265.0 170.9,2259.9 190.9,2254.8 210.8,2249.7 230.8,2244.7 250.7,2239.6 270.7,2234.5 290.6,2229.4 310.6,2224.5 330.5,2219.8 350.4,2215.0 370.4,2210.3 390.3,2205.5 410.3,2200.8 430.2,2196.1 450.2,2191.1 470.1,2185.8 490.0,2180.1 510.0,2174.5 529.9,2168.8 549.9,2163.2 569.8,2157.5 589.8,2151.7 609.7,2145.7 629.7,2139.7 649.6,2133.7 669.5,2127.5 689.5,2121.3 709.4,2115.6 729.4,2110.6 749.3,2105.6 769.3,2100.5 789.2,2095.5 809.1,2089.5 829.1,2083.4 849.0,2077.3 869.0,2071.2 888.9,2065.1 908.9,2059.1 928.8,2053.1 948.8,2047.1 968.7,2041.2 988.6,2035.0 1008.6,2028.7 1028.5,2022.4 1048.5,2016.1 1068.4,2009.9 1088.4,2003.6 1108.3,1997.4 1128.2,1991.1 1148.2,1984.9 1168.1,1978.6 1188.1,1969.9 1208.0,1961.0 1228.0,1952.2 1247.9,1943.7 1267.9,1935.5 1287.8,1927.4 1307.7,1919.3 1327.7,1912.1 1347.6,1904.9 1367.6,1897.6 1387.5,1890.2 1407.5,1882.8 1427.4,1875.7 1447.3,1868.6 1467.3,1862.3 1487.2,1856.0 1507.2,1849.4 1527.1,1842.1 1547.1,1834.9 1567.0,1827.6 1587.0,1820.4 1606.9,1813.8 1626.8,1808.2 1646.8,1802.5 1666.7,1797.2 1686.7,1791.8 1706.6,1786.2 1726.6,1780.4 1746.5,1774.5 1766.4,1767.1 1786.4,1759.5 1806.3,1752.1 1826.3,1744.9 1846.2,1737.9 1866.2,1731.2 1886.1,1724.4 1906.1,1718.3 1926.0,1713.0 1926.0,1877.0 1906.1,1881.6 1886.1,1886.9 1866.2,1892.8 1846.2,1898.7 1826.3,1904.5 1806.3,1910.5 1786.4,1916.2 1766.4,1921.8 1746.5,1927.2 1726.6,1931.5 1706.6,1935.7 1686.7,1940.3 1666.7,1944.9 1646.8,1949.3 1626.8,1953.8 1606.9,1958.2 1587.0,1963.6 1567.0,1969.6 1547.1,1975.7 1527.1,1981.7 1507.2,1987.8 1487.2,1992.2 1467.3,1995.7 1447.3,1999.3 1427.4,2003.5 1407.5,2007.9 1387.5,2013.0 1367.6,2018.4 1347.6,2023.6 1327.7,2028.9 1307.7,2034.1 1287.8,2040.2 1267.9,2046.3 1247.9,2052.5 1228.0,2059.0 1208.0,2065.8 1188.1,2072.7 1168.1,2079.4 1148.2,2083.7 1128.2,2088.0 1108.3,2092.2 1088.4,2096.4 1068.4,2100.6 1048.5,2104.8 1028.5,2109.1 1008.6,2113.3 988.6,2117.6 968.7,2121.7 948.8,2125.6 928.8,2129.6 908.9,2133.5 888.9,2137.4 869.0,2141.5 849.0,2145.6 829.1,2149.6 809.1,2153.7 789.2,2157.6 769.3,2160.6 749.3,2163.6 729.4,2166.6 709.4,2169.6 689.5,2173.2 669.5,2177.3 649.6,2181.4 629.7,2185.4 609.7,2189.3 589.8,2193.2 569.8,2197.0 549.9,2200.5 529.9,2204.1 510.0,2207.7 490.0,2211.3 470.1,2214.8 450.2,2218.4 430.2,2221.8 410.3,2225.1 390.3,2228.3 370.4,2231.6 350.4,2234.8 330.5,2238.0 310.6,2241.3 290.6,2244.4 270.7,2247.3 250.7,2250.3 230.8,2253.2 210.8,2256.2 190.9,2259.1 170.9,2262.1 151.0,2265.0" fill="#0000FA" fill-opacity="0.1"/>
<path d="M151.0,2265.0 C175.8,2260.0 252.2,2244.6 300.0,2235.0 C347.8,2225.4 391.9,2217.0 438.0,2207.4 C484.1,2197.8 541.9,2185.1 576.5,2177.4 C611.1,2169.7 625.0,2166.2 645.6,2161.3 C666.2,2156.4 675.6,2153.6 700.0,2148.0 C724.4,2142.4 761.3,2135.5 792.0,2128.0 C822.7,2120.5 853.2,2111.2 884.0,2103.0 C914.8,2094.8 949.5,2085.8 976.5,2078.5 C1003.5,2071.2 1025.4,2064.8 1046.0,2059.0 C1066.6,2053.2 1079.5,2049.4 1100.0,2044.0 C1120.5,2038.6 1146.0,2033.8 1169.0,2026.5 C1192.0,2019.2 1215.0,2008.4 1238.0,2000.0 C1261.0,1991.6 1283.9,1983.5 1307.0,1976.0 C1330.1,1968.5 1353.4,1962.2 1376.5,1955.0 C1399.6,1947.8 1425.0,1939.2 1445.6,1933.0 C1466.2,1926.8 1481.7,1923.5 1500.0,1918.0 C1518.3,1912.5 1539.0,1905.3 1555.5,1900.0 C1572.0,1894.7 1579.4,1891.3 1599.0,1886.0 C1618.6,1880.7 1648.2,1874.2 1673.0,1868.0 C1697.8,1861.8 1723.0,1856.2 1748.0,1849.0 C1773.0,1841.8 1798.2,1832.8 1823.0,1825.0 C1847.8,1817.2 1879.8,1807.0 1897.0,1802.0 C1914.2,1797.0 1921.2,1796.2 1926.0,1795.0" fill="none" stroke="#0000FA" stroke-width="5" stroke-linejoin="round" stroke-linecap="butt"/>
<polygon points="151.0,2266.0 170.9,2261.2 190.9,2256.4 210.8,2251.5 230.8,2246.7 250.7,2241.9 270.7,2237.1 290.6,2232.3 310.6,2227.6 330.5,2223.2 350.4,2218.7 370.4,2214.2 390.3,2209.7 410.3,2205.3 430.2,2200.8 450.2,2196.2 470.1,2191.5 490.0,2186.5 510.0,2181.6 529.9,2176.7 549.9,2171.7 569.8,2166.8 589.8,2161.9 609.7,2157.0 629.7,2152.2 649.6,2147.4 669.5,2143.3 689.5,2139.2 709.4,2134.7 729.4,2129.9 749.3,2125.1 769.3,2120.3 789.2,2115.4 809.1,2110.8 829.1,2106.2 849.0,2101.6 869.0,2097.0 888.9,2092.2 908.9,2086.8 928.8,2081.3 948.8,2075.9 968.7,2070.4 988.6,2064.8 1008.6,2059.0 1028.5,2053.2 1048.5,2047.4 1068.4,2041.4 1088.4,2035.5 1108.3,2029.7 1128.2,2024.1 1148.2,2018.6 1168.1,2013.0 1188.1,2007.1 1208.0,2001.1 1228.0,1995.2 1247.9,1989.6 1267.9,1984.3 1287.8,1979.1 1307.7,1973.8 1327.7,1967.9 1347.6,1962.0 1367.6,1956.1 1387.5,1949.7 1407.5,1942.8 1427.4,1936.0 1447.3,1929.1 1467.3,1921.6 1487.2,1914.0 1507.2,1906.1 1527.1,1897.6 1547.1,1889.8 1567.0,1881.9 1587.0,1874.1 1606.9,1866.0 1626.8,1857.5 1646.8,1849.0 1666.7,1840.0 1686.7,1832.0 1706.6,1823.4 1726.6,1812.6 1746.5,1799.6 1766.4,1785.6 1786.4,1771.7 1806.3,1760.1 1826.3,1749.1 1846.2,1738.0 1866.2,1727.5 1886.1,1718.0 1906.1,1708.5 1926.0,1699.0 1926.0,1810.0 1906.1,1817.9 1886.1,1825.9 1866.2,1833.8 1846.2,1842.6 1826.3,1851.7 1806.3,1860.7 1786.4,1869.5 1766.4,1880.2 1746.5,1891.2 1726.6,1901.8 1706.6,1910.2 1686.7,1916.9 1666.7,1923.3 1646.8,1930.9 1626.8,1938.9 1606.9,1946.8 1587.0,1954.4 1567.0,1961.7 1547.1,1969.0 1527.1,1976.3 1507.2,1984.3 1487.2,1991.0 1467.3,1997.0 1447.3,2002.9 1427.4,2008.2 1407.5,2013.4 1387.5,2019.0 1367.6,2024.5 1347.6,2029.4 1327.7,2034.3 1307.7,2039.2 1287.8,2043.5 1267.9,2047.7 1247.9,2052.0 1228.0,2056.6 1208.0,2061.5 1188.1,2066.5 1168.1,2071.4 1148.2,2076.0 1128.2,2080.5 1108.3,2085.1 1088.4,2090.0 1068.4,2095.3 1048.5,2100.5 1028.5,2105.5 1008.6,2110.6 988.6,2115.6 968.7,2120.5 948.8,2125.2 928.8,2129.9 908.9,2134.6 888.9,2139.3 869.0,2143.3 849.0,2147.2 829.1,2151.1 809.1,2154.9 789.2,2158.8 769.3,2162.9 749.3,2166.9 729.4,2171.0 709.4,2175.1 689.5,2178.3 669.5,2180.8 649.6,2183.2 629.7,2186.3 609.7,2189.5 589.8,2192.7 569.8,2196.0 549.9,2199.2 529.9,2202.5 510.0,2205.8 490.0,2209.0 470.1,2212.3 450.2,2215.8 430.2,2219.3 410.3,2222.8 390.3,2226.3 370.4,2229.7 350.4,2233.2 330.5,2236.7 310.6,2240.2 290.6,2243.5 270.7,2246.7 250.7,2249.9 230.8,2253.2 210.8,2256.4 190.9,2259.6 170.9,2262.8 151.0,2266.0" fill="#2E8CD2" fill-opacity="0.1"/>
<path d="M151.0,2266.0 C175.8,2261.0 252.2,2245.6 300.0,2236.0 C347.8,2226.4 391.9,2217.8 438.0,2208.5 C484.1,2199.2 541.9,2187.1 576.5,2180.0 C611.1,2172.9 625.0,2169.8 645.6,2166.0 C666.2,2162.2 675.6,2162.2 700.0,2157.0 C724.4,2151.8 761.3,2142.2 792.0,2135.0 C822.7,2127.8 853.2,2121.7 884.0,2114.0 C914.8,2106.3 949.5,2096.5 976.5,2089.0 C1003.5,2081.5 1025.4,2075.0 1046.0,2069.0 C1066.6,2063.0 1079.5,2058.3 1100.0,2053.0 C1120.5,2047.7 1146.0,2042.6 1169.0,2037.0 C1192.0,2031.4 1215.0,2025.0 1238.0,2019.6 C1261.0,2014.2 1283.9,2010.1 1307.0,2004.7 C1330.1,1999.3 1353.4,1993.8 1376.5,1987.4 C1399.6,1981.1 1425.0,1973.1 1445.6,1966.6 C1466.2,1960.1 1486.9,1953.0 1500.0,1948.2 C1513.1,1943.4 1507.5,1944.5 1524.0,1938.0 C1540.5,1931.5 1574.2,1919.0 1599.0,1909.0 C1623.8,1899.0 1656.2,1884.7 1673.0,1878.0 C1689.8,1871.3 1690.7,1872.8 1700.0,1869.0 C1709.3,1865.2 1714.8,1863.0 1729.0,1855.0 C1743.2,1847.0 1763.2,1832.8 1785.0,1821.0 C1806.8,1809.2 1836.5,1794.8 1860.0,1784.0 C1883.5,1773.2 1915.0,1760.7 1926.0,1756.0" fill="none" stroke="#2E8CD2" stroke-width="5" stroke-linejoin="round" stroke-linecap="butt"/>
<polygon points="151.0,2263.0 170.9,2257.0 190.9,2251.0 210.8,2245.0 230.8,2239.0 250.7,2232.9 270.7,2226.9 290.6,2220.8 310.6,2214.9 330.5,2209.0 350.4,2203.2 370.4,2197.3 390.3,2191.5 410.3,2184.9 430.2,2178.3 450.2,2171.6 470.1,2164.7 490.0,2157.2 510.0,2148.5 529.9,2139.8 549.9,2131.2 569.8,2122.0 589.8,2112.9 609.7,2103.7 629.7,2094.7 649.6,2086.3 669.5,2077.9 689.5,2069.4 709.4,2061.0 729.4,2052.5 749.3,2044.0 769.3,2035.6 789.2,2027.1 809.1,2018.6 829.1,2010.1 849.0,2001.7 869.0,1993.2 888.9,1984.7 908.9,1976.3 928.8,1967.8 948.8,1959.4 968.7,1950.9 988.6,1942.5 1008.6,1934.1 1028.5,1925.6 1048.5,1917.2 1068.4,1908.8 1088.4,1900.3 1108.3,1892.5 1128.2,1885.5 1148.2,1878.5 1168.1,1871.5 1188.1,1863.8 1208.0,1856.0 1228.0,1848.3 1247.9,1841.0 1267.9,1834.1 1287.8,1827.2 1307.7,1820.2 1327.7,1813.1 1347.6,1806.1 1367.6,1799.0 1387.5,1791.3 1407.5,1783.1 1427.4,1774.7 1447.3,1766.3 1467.3,1758.1 1487.2,1750.0 1507.2,1741.8 1527.1,1733.7 1547.1,1725.6 1567.0,1717.3 1587.0,1708.9 1606.9,1700.4 1626.8,1692.4 1646.8,1684.3 1666.7,1677.2 1686.7,1664.7 1706.6,1643.7 1726.6,1624.4 1746.5,1606.0 1766.4,1585.9 1786.4,1564.7 1806.3,1544.6 1826.3,1526.7 1846.2,1508.6 1866.2,1490.5 1886.1,1472.6 1906.1,1454.7 1926.0,1440.7 1926.0,1662.7 1906.1,1678.3 1886.1,1697.8 1866.2,1717.3 1846.2,1735.6 1826.3,1748.5 1806.3,1761.3 1786.4,1772.1 1766.4,1782.1 1746.5,1791.4 1726.6,1800.6 1706.6,1810.7 1686.7,1828.2 1666.7,1839.8 1646.8,1845.8 1626.8,1850.7 1606.9,1855.5 1587.0,1860.8 1567.0,1866.1 1547.1,1871.2 1527.1,1876.1 1507.2,1881.0 1487.2,1886.7 1467.3,1892.8 1447.3,1899.0 1427.4,1905.4 1407.5,1911.9 1387.5,1918.5 1367.6,1924.9 1347.6,1930.7 1327.7,1936.6 1307.7,1942.4 1287.8,1948.0 1267.9,1953.7 1247.9,1959.3 1228.0,1965.4 1208.0,1971.9 1188.1,1978.4 1168.1,1984.8 1148.2,1990.6 1128.2,1996.3 1108.3,2002.0 1088.4,2008.0 1068.4,2014.2 1048.5,2020.4 1028.5,2026.6 1008.6,2032.8 988.6,2039.0 968.7,2045.2 948.8,2051.4 928.8,2057.6 908.9,2063.7 888.9,2070.0 869.0,2076.2 849.0,2082.4 829.1,2088.7 809.1,2094.9 789.2,2101.1 769.3,2107.4 749.3,2113.6 729.4,2119.8 709.4,2126.1 689.5,2132.0 669.5,2137.8 649.6,2143.6 629.7,2149.3 609.7,2155.6 589.8,2162.2 569.8,2168.7 549.9,2175.1 529.9,2181.2 510.0,2187.2 490.0,2193.2 470.1,2198.1 450.2,2202.8 430.2,2207.6 410.3,2212.5 390.3,2217.4 370.4,2221.5 350.4,2225.6 330.5,2229.7 310.6,2233.8 290.6,2237.7 270.7,2241.3 250.7,2245.0 230.8,2248.6 210.8,2252.2 190.9,2255.8 170.9,2259.4 151.0,2263.0" fill="#C0001F" fill-opacity="0.1"/>
<path d="M151.0,2263.0 C164.8,2259.7 209.2,2249.0 234.0,2243.0 C258.8,2237.0 273.7,2233.5 300.0,2227.0 C326.3,2220.5 361.3,2212.3 392.0,2204.0 C422.7,2195.7 457.2,2186.1 484.0,2177.4 C510.8,2168.7 529.8,2160.8 553.0,2152.0 C576.2,2143.2 598.5,2133.6 623.0,2124.4 C647.5,2115.2 653.8,2113.9 700.0,2097.0 C746.2,2080.1 833.3,2047.6 900.0,2023.0 C966.7,1998.4 1055.2,1965.3 1100.0,1949.4 C1144.8,1933.5 1146.0,1935.2 1169.0,1927.5 C1192.0,1919.8 1215.0,1910.7 1238.0,1903.0 C1261.0,1895.3 1283.9,1888.7 1307.0,1881.4 C1330.1,1874.1 1352.4,1867.4 1376.5,1859.0 C1400.6,1850.6 1430.6,1838.8 1451.8,1831.0 C1473.0,1823.2 1486.4,1818.5 1503.7,1812.5 C1521.0,1806.5 1538.2,1801.2 1555.5,1795.3 C1572.8,1789.4 1591.7,1782.5 1607.4,1777.1 C1623.2,1771.7 1639.4,1766.6 1650.0,1763.0 C1660.6,1759.4 1664.7,1758.5 1670.9,1755.3 C1677.1,1752.1 1681.9,1748.3 1687.1,1743.7 C1692.3,1739.1 1697.2,1732.3 1702.2,1727.5 C1707.2,1722.7 1706.2,1723.4 1716.8,1715.1 C1727.3,1706.8 1745.4,1693.7 1765.5,1677.9 C1785.6,1662.1 1813.4,1639.9 1837.3,1620.5 C1861.2,1601.1 1894.2,1573.2 1909.0,1561.7 C1923.8,1550.2 1923.3,1553.3 1926.2,1551.6" fill="none" stroke="#C0001F" stroke-width="5" stroke-linejoin="round" stroke-linecap="butt"/>
<polygon points="151.0,2261.0 170.9,2252.9 190.9,2244.9 210.8,2236.8 230.8,2228.7 250.7,2220.7 270.7,2212.7 290.6,2204.8 310.6,2196.6 330.5,2188.2 350.4,2179.8 370.4,2171.5 390.3,2163.1 410.3,2155.6 430.2,2148.2 450.2,2140.8 470.1,2133.5 490.0,2126.8 510.0,2121.2 529.9,2115.6 549.9,2110.0 569.8,2103.5 589.8,2096.9 609.7,2090.2 629.7,2083.6 649.6,2077.1 669.5,2070.6 689.5,2064.1 709.4,2057.8 729.4,2051.8 749.3,2045.7 769.3,2039.7 789.2,2033.5 809.1,2027.4 829.1,2021.2 849.0,2015.5 869.0,2010.1 888.9,2004.6 908.9,1999.0 928.8,1991.3 948.8,1983.5 968.7,1974.2 988.6,1964.5 1008.6,1955.3 1028.5,1946.7 1048.5,1938.1 1068.4,1929.4 1088.4,1920.8 1108.3,1912.1 1128.2,1903.5 1148.2,1894.8 1168.1,1886.2 1188.1,1876.3 1208.0,1866.4 1228.0,1856.5 1247.9,1847.1 1267.9,1838.3 1287.8,1829.4 1307.7,1820.5 1327.7,1810.9 1347.6,1801.4 1367.6,1791.9 1387.5,1781.7 1407.5,1770.5 1427.4,1758.6 1447.3,1746.6 1467.3,1734.1 1487.2,1721.5 1507.2,1708.9 1527.1,1697.5 1547.1,1686.0 1567.0,1673.9 1587.0,1661.4 1606.9,1648.9 1626.8,1638.0 1646.8,1627.2 1666.7,1616.7 1686.7,1606.3 1706.6,1595.9 1726.6,1581.8 1746.5,1567.5 1766.4,1551.2 1786.4,1532.1 1806.3,1512.7 1826.3,1492.3 1846.2,1471.9 1866.2,1452.0 1886.1,1432.3 1906.1,1412.6 1926.0,1395.7 1926.0,1641.7 1906.1,1651.5 1886.1,1664.1 1866.2,1676.7 1846.2,1689.4 1826.3,1702.3 1806.3,1715.1 1786.4,1727.8 1766.4,1740.4 1746.5,1750.7 1726.6,1760.7 1706.6,1770.3 1686.7,1775.0 1666.7,1779.1 1646.8,1783.7 1626.8,1791.5 1606.9,1799.3 1587.0,1808.7 1567.0,1818.2 1547.1,1827.2 1527.1,1835.6 1507.2,1844.0 1487.2,1852.3 1467.3,1860.0 1447.3,1867.5 1427.4,1874.4 1407.5,1881.4 1387.5,1889.5 1367.6,1897.8 1347.6,1905.5 1327.7,1913.2 1307.7,1920.9 1287.8,1927.9 1267.9,1934.9 1247.9,1942.0 1228.0,1949.5 1208.0,1957.5 1188.1,1965.5 1168.1,1973.5 1148.2,1980.3 1128.2,1987.1 1108.3,1993.9 1088.4,2001.1 1068.4,2008.5 1048.5,2016.0 1028.5,2023.4 1008.6,2030.8 988.6,2038.8 968.7,2047.4 948.8,2055.5 928.8,2062.0 908.9,2068.5 888.9,2073.0 869.0,2077.2 849.0,2081.4 829.1,2086.0 809.1,2090.9 789.2,2095.9 769.3,2100.8 749.3,2105.7 729.4,2110.5 709.4,2115.4 689.5,2120.2 669.5,2125.0 649.6,2129.7 629.7,2134.5 609.7,2139.3 589.8,2144.2 569.8,2149.1 549.9,2153.9 529.9,2157.7 510.0,2161.6 490.0,2165.4 470.1,2170.4 450.2,2175.9 430.2,2181.3 410.3,2186.7 390.3,2192.1 370.4,2198.5 350.4,2204.9 330.5,2211.3 310.6,2217.6 290.6,2223.5 270.7,2228.8 250.7,2234.1 230.8,2239.4 210.8,2244.8 190.9,2250.2 170.9,2255.6 151.0,2261.0" fill="#F0950C" fill-opacity="0.1"/>
<path d="M151.0,2261.0 C164.8,2256.3 209.2,2241.3 234.0,2233.0 C258.8,2224.7 273.7,2220.3 300.0,2211.0 C326.3,2201.7 361.3,2187.6 392.0,2177.0 C422.7,2166.4 457.2,2155.2 484.0,2147.5 C510.8,2139.8 529.8,2137.2 553.0,2131.0 C576.2,2124.8 598.5,2117.7 623.0,2110.6 C647.5,2103.5 675.7,2095.4 700.0,2088.7 C724.3,2082.0 746.0,2076.6 769.0,2070.5 C792.0,2064.4 815.0,2057.8 838.0,2052.0 C861.0,2046.2 887.8,2041.3 907.0,2036.0 C926.2,2030.7 937.5,2026.2 953.0,2020.0 C968.5,2013.8 984.5,2005.5 1000.0,1999.0 C1015.5,1992.5 1029.3,1987.5 1046.0,1981.0 C1062.7,1974.5 1079.5,1967.7 1100.0,1959.7 C1120.5,1951.7 1146.0,1942.6 1169.0,1933.0 C1192.0,1923.4 1215.0,1911.8 1238.0,1902.0 C1261.0,1892.2 1283.9,1884.1 1307.0,1874.5 C1330.1,1864.9 1361.0,1851.4 1376.5,1844.5 C1392.0,1837.6 1387.5,1839.5 1400.0,1833.0 C1412.5,1826.5 1434.5,1815.0 1451.8,1805.6 C1469.1,1796.1 1486.4,1785.2 1503.7,1776.3 C1521.0,1767.4 1538.2,1760.6 1555.5,1752.1 C1572.8,1743.5 1591.7,1732.6 1607.4,1725.0 C1623.2,1717.4 1633.2,1713.9 1650.0,1706.5 C1666.8,1699.1 1689.9,1690.5 1708.2,1680.7 C1726.5,1670.9 1745.5,1658.0 1759.8,1647.7 C1774.1,1637.4 1778.9,1631.7 1794.2,1619.0 C1809.5,1606.3 1832.5,1586.8 1851.6,1571.7 C1870.7,1556.7 1896.6,1537.6 1909.0,1528.7 C1921.4,1519.8 1923.3,1520.3 1926.2,1518.6" fill="none" stroke="#F0950C" stroke-width="5" stroke-linejoin="round" stroke-linecap="butt"/>
</g>
<line x1="131.8" y1="1516.6" x2="131.8" y2="2273" stroke="#000" stroke-width="2.6"/>
<line x1="130.5" y1="2271.8" x2="1945.4" y2="2271.8" stroke="#000" stroke-width="2.6"/>
<line x1="126.5" y1="2271.80" x2="132" y2="2271.80" stroke="#000" stroke-width="4.2"/>
<line x1="136.50" y1="2269.5" x2="136.50" y2="2277.6" stroke="#000" stroke-width="4.4"/>
<line x1="126.5" y1="2089.45" x2="132" y2="2089.45" stroke="#000" stroke-width="4.2"/>
<line x1="579.48" y1="2269.5" x2="579.48" y2="2277.6" stroke="#000" stroke-width="4.4"/>
<line x1="126.5" y1="1907.10" x2="132" y2="1907.10" stroke="#000" stroke-width="4.2"/>
<line x1="1022.45" y1="2269.5" x2="1022.45" y2="2277.6" stroke="#000" stroke-width="4.4"/>
<line x1="126.5" y1="1724.75" x2="132" y2="1724.75" stroke="#000" stroke-width="4.2"/>
<line x1="1465.42" y1="2269.5" x2="1465.42" y2="2277.6" stroke="#000" stroke-width="4.4"/>
<line x1="126.5" y1="1542.40" x2="132" y2="1542.40" stroke="#000" stroke-width="4.2"/>
<line x1="1908.40" y1="2269.5" x2="1908.40" y2="2277.6" stroke="#000" stroke-width="4.4"/>
<text x="455.75" y="292.80" font-size="34" textLength="1150.30" lengthAdjust="spacingAndGlyphs">Sample No: 4209   Event No: 1344   Attack rate: 10.31%   Incidence rate: 70.53/1000 person.y</text>
<text x="463.75" y="544.95" font-size="34" textLength="1134.80" lengthAdjust="spacingAndGlyphs">Sample No: 1697   Event No: 752   Attack rate: 12.85%   Incidence rate: 90.71/1000 person.y</text>
<text x="455.35" y="797.10" font-size="34" textLength="1151.50" lengthAdjust="spacingAndGlyphs">Sample No: 3007   Event No: 1270   Attack rate: 11.51%   Incidence rate: 86.57/1000 person.y</text>
<text x="455.35" y="1049.25" font-size="34" textLength="1151.50" lengthAdjust="spacingAndGlyphs">Sample No: 1349   Event No: 954   Attack rate: 18.83%   Incidence rate: 132.47/1000 person.y</text>
<text x="463.75" y="1301.40" font-size="34" textLength="1134.80" lengthAdjust="spacingAndGlyphs">Sample No: 508   Event No: 491   Attack rate: 26.77%   Incidence rate: 177.44/1000 person.y</text>
<text transform="translate(106.00,0) rotate(-90)" x="-233.93" y="0" font-size="31.5" textLength="90.76" lengthAdjust="spacingAndGlyphs">&lt;3 mg/L</text>
<text transform="translate(106.00,0) rotate(-90)" x="-490.05" y="0" font-size="31.5" textLength="98.38" lengthAdjust="spacingAndGlyphs">3-8 mg/L</text>
<text transform="translate(106.00,0) rotate(-90)" x="-761.95" y="0" font-size="31.5" textLength="138.23" lengthAdjust="spacingAndGlyphs">1×(≥8 mg/L)</text>
<text transform="translate(106.00,0) rotate(-90)" x="-1026.28" y="0" font-size="31.5" textLength="160.66" lengthAdjust="spacingAndGlyphs">2-3×(≥8 mg/L)</text>
<text transform="translate(106.00,0) rotate(-90)" x="-1274.25" y="0" font-size="31.5" textLength="152.53" lengthAdjust="spacingAndGlyphs">&gt;3×(≥8 mg/L)</text>
<text transform="translate(28.90,0) rotate(-90)" x="-869.26" y="0" font-size="35.5" textLength="353.12" lengthAdjust="spacingAndGlyphs">Samples stratified by hsCRP</text>
<text x="119.62" y="1359.00" font-size="31" textLength="34.75" lengthAdjust="spacingAndGlyphs">0.0</text>
<text x="563.75" y="1359.00" font-size="31" textLength="35.13" lengthAdjust="spacingAndGlyphs">2.5</text>
<text x="1008.45" y="1359.00" font-size="31" textLength="34.78" lengthAdjust="spacingAndGlyphs">5.0</text>
<text x="1452.58" y="1359.00" font-size="31" textLength="35.16" lengthAdjust="spacingAndGlyphs">7.5</text>
<text x="1889.79" y="1359.00" font-size="31" textLength="48.89" lengthAdjust="spacingAndGlyphs">10.0</text>
<text x="395.96" y="1466.30" font-size="30" textLength="79.36" lengthAdjust="spacingAndGlyphs">hsCRP</text>
<rect x="530.1" y="1420.5" width="31.8" height="69.7" fill="#F3F7E8"/>
<line x1="532.1" y1="1456" x2="559.5" y2="1456" stroke="#8DC21F" stroke-width="5.8"/>
<text x="572.10" y="1465.20" font-size="27.5" textLength="80.93" lengthAdjust="spacingAndGlyphs">&lt;3 mg/L</text>
<rect x="709.0" y="1420.5" width="31.5" height="69.7" fill="#E6E6FD"/>
<line x1="711.0" y1="1456" x2="738.1" y2="1456" stroke="#0000FF" stroke-width="5.8"/>
<text x="750.76" y="1465.20" font-size="27.5" textLength="87.48" lengthAdjust="spacingAndGlyphs">3-8 mg/L</text>
<rect x="898.0" y="1420.5" width="31.6" height="69.7" fill="#E9F2F9"/>
<line x1="900.0" y1="1456" x2="927.2" y2="1456" stroke="#3399D0" stroke-width="5.8"/>
<text x="938.95" y="1465.20" font-size="27.5" textLength="124.27" lengthAdjust="spacingAndGlyphs">1×(≥8 mg/L)</text>
<rect x="1142.6" y="1420.5" width="31.1" height="69.7" fill="#F7E3E7"/>
<line x1="1144.6" y1="1456" x2="1171.3" y2="1456" stroke="#C8102E" stroke-width="5.8"/>
<text x="1183.35" y="1465.20" font-size="27.5" textLength="144.07" lengthAdjust="spacingAndGlyphs">2-3×(≥8 mg/L)</text>
<rect x="1417.6" y="1420.5" width="31.1" height="69.7" fill="#FDF3E6"/>
<line x1="1419.6" y1="1456" x2="1446.3" y2="1456" stroke="#F39C12" stroke-width="5.8"/>
<text x="1458.88" y="1465.20" font-size="27.5" textLength="136.54" lengthAdjust="spacingAndGlyphs">&gt;3×(≥8 mg/L)</text>
<text x="616.05" y="1548.60" font-size="34" textLength="489.75" lengthAdjust="spacingAndGlyphs">Stratification;   HR and MCF in 10 Years</text>
<text x="572.99" y="1597.17" font-size="34" textLength="575.12" lengthAdjust="spacingAndGlyphs">hsCRP,&lt;3 mg/L;  HR: Reference;   MCF: 1.156</text>
<text x="427.09" y="1645.74" font-size="34" textLength="867.21" lengthAdjust="spacingAndGlyphs">hsCRP, 3-8 mg/L;  HR: 1.28(95% CI, 1.18--1.38), p=0.14;   MCF: 1.339</text>
<text x="405.08" y="1694.31" font-size="34" textLength="912.31" lengthAdjust="spacingAndGlyphs">hsCRP, 1×(≥8 mg/L);  HR: 1.19(95% CI, 1.11--1.27), p=0.17;   MCF: 1.417</text>
<text x="377.09" y="1742.88" font-size="34" textLength="966.26" lengthAdjust="spacingAndGlyphs">hsCRP, 2-3×(≥8 mg/L);  HR: 1.7(95% CI, 1.62--1.78), p&lt;0.001***;   MCF: 2.021</text>
<text x="379.98" y="1791.45" font-size="34" textLength="960.54" lengthAdjust="spacingAndGlyphs">hsCRP, &gt;3×(≥8 mg/L);  HR: 1.88(95% CI, 1.78--1.98), p&lt;0.001***;   MCF: 2.36</text>
<text x="552.75" y="1840.02" font-size="34" textLength="615.28" lengthAdjust="spacingAndGlyphs">Sex, M;  HR: 1.81(95% CI, 1.75--1.87), p&lt;0.001***</text>
<text x="530.45" y="1888.59" font-size="34" textLength="661.18" lengthAdjust="spacingAndGlyphs">Age, 60-75y;  HR: 2.74(95% CI, 2.68--2.8), p&lt;0.001***</text>
<text x="86.93" y="2284.00" font-size="34.5" textLength="38.14" lengthAdjust="spacingAndGlyphs">0.0</text>
<text x="86.93" y="2101.65" font-size="34.5" textLength="38.23" lengthAdjust="spacingAndGlyphs">0.5</text>
<text x="85.85" y="1919.30" font-size="34.5" textLength="39.25" lengthAdjust="spacingAndGlyphs">1.0</text>
<text x="85.84" y="1736.95" font-size="34.5" textLength="39.34" lengthAdjust="spacingAndGlyphs">1.5</text>
<text x="86.61" y="1554.60" font-size="34.5" textLength="38.47" lengthAdjust="spacingAndGlyphs">2.0</text>
<text x="117.27" y="2328.80" font-size="34.5" textLength="38.46" lengthAdjust="spacingAndGlyphs">0.0</text>
<text x="559.92" y="2328.80" font-size="34.5" textLength="38.88" lengthAdjust="spacingAndGlyphs">2.5</text>
<text x="1003.19" y="2328.80" font-size="34.5" textLength="38.49" lengthAdjust="spacingAndGlyphs">5.0</text>
<text x="1445.84" y="2328.80" font-size="34.5" textLength="38.91" lengthAdjust="spacingAndGlyphs">7.5</text>
<text x="1880.89" y="2328.80" font-size="34.5" textLength="54.00" lengthAdjust="spacingAndGlyphs">10.0</text>
<text transform="translate(32.30,0) rotate(-90)" x="-1928.03" y="0" font-size="38" textLength="66.87" lengthAdjust="spacingAndGlyphs">MCF</text>
<text x="937.79" y="2405.60" font-size="38" textLength="202.00" lengthAdjust="spacingAndGlyphs">Followup(year)</text>
</svg>
</body></html>
